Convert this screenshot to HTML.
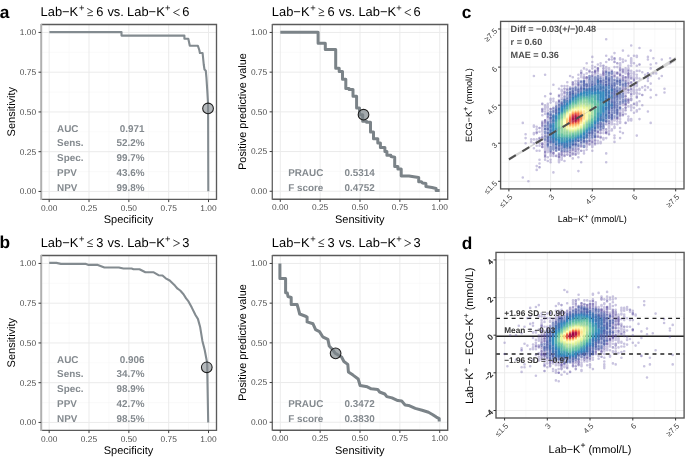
<!DOCTYPE html>
<html><head><meta charset="utf-8"><style>
html,body{margin:0;padding:0;background:#fff;width:685px;height:462px;overflow:hidden}
svg{display:block;font-family:"Liberation Sans", sans-serif;will-change:transform;text-rendering:geometricPrecision}
</style></head><body>
<svg width="685" height="462" viewBox="0 0 685 462" font-family="Liberation Sans, sans-serif"><line x1="69.09" y1="24.5" x2="69.09" y2="199.4" stroke="#f5f5f5" stroke-width="0.55"/>
<line x1="41.2" y1="171.58" x2="216.5" y2="171.58" stroke="#f5f5f5" stroke-width="0.55"/>
<line x1="108.93" y1="24.5" x2="108.93" y2="199.4" stroke="#f5f5f5" stroke-width="0.55"/>
<line x1="41.2" y1="131.82" x2="216.5" y2="131.82" stroke="#f5f5f5" stroke-width="0.55"/>
<line x1="148.77" y1="24.5" x2="148.77" y2="199.4" stroke="#f5f5f5" stroke-width="0.55"/>
<line x1="41.2" y1="92.08" x2="216.5" y2="92.08" stroke="#f5f5f5" stroke-width="0.55"/>
<line x1="188.61" y1="24.5" x2="188.61" y2="199.4" stroke="#f5f5f5" stroke-width="0.55"/>
<line x1="41.2" y1="52.32" x2="216.5" y2="52.32" stroke="#f5f5f5" stroke-width="0.55"/>
<line x1="49.17" y1="24.5" x2="49.17" y2="199.4" stroke="#ebebeb" stroke-width="1.0"/>
<line x1="41.2" y1="191.45" x2="216.5" y2="191.45" stroke="#ebebeb" stroke-width="1.0"/>
<line x1="89.01" y1="24.5" x2="89.01" y2="199.4" stroke="#ebebeb" stroke-width="1.0"/>
<line x1="41.2" y1="151.7" x2="216.5" y2="151.7" stroke="#ebebeb" stroke-width="1.0"/>
<line x1="128.85" y1="24.5" x2="128.85" y2="199.4" stroke="#ebebeb" stroke-width="1.0"/>
<line x1="41.2" y1="111.95" x2="216.5" y2="111.95" stroke="#ebebeb" stroke-width="1.0"/>
<line x1="168.69" y1="24.5" x2="168.69" y2="199.4" stroke="#ebebeb" stroke-width="1.0"/>
<line x1="41.2" y1="72.2" x2="216.5" y2="72.2" stroke="#ebebeb" stroke-width="1.0"/>
<line x1="208.53" y1="24.5" x2="208.53" y2="199.4" stroke="#ebebeb" stroke-width="1.0"/>
<line x1="41.2" y1="32.45" x2="216.5" y2="32.45" stroke="#ebebeb" stroke-width="1.0"/>
<path d="M49.4 32.1 L121.5 32.1 L121.5 35.6 L184.4 35.6 L184.4 38.7 L188.3 38.7 L189.8 45.8 L197.9 45.8 L199.3 50 L199.9 53 L202.6 53 L203.8 65 L204.5 69.5 L205.8 70.8 L206.4 77.3 L207.3 91 L208 102.7 L208.1 108.2 L208.3 191.3" fill="none" stroke="#838b90" stroke-width="2.1" stroke-linejoin="round"/>
<circle cx="208.05" cy="108.45" r="5.35" fill="#838b90" fill-opacity="0.6" stroke="#1e1e1e" stroke-width="1.05"/>
<text x="57.05" y="131.6" font-size="9.9" font-weight="bold" fill="#848a8f">AUC</text>
<text x="144.55" y="131.6" font-size="9.9" text-anchor="end" font-weight="bold" fill="#848a8f">0.971</text>
<text x="57.05" y="146.4" font-size="9.9" font-weight="bold" fill="#848a8f">Sens.</text>
<text x="144.55" y="146.4" font-size="9.9" text-anchor="end" font-weight="bold" fill="#848a8f">52.2%</text>
<text x="57.05" y="161.2" font-size="9.9" font-weight="bold" fill="#848a8f">Spec.</text>
<text x="144.55" y="161.2" font-size="9.9" text-anchor="end" font-weight="bold" fill="#848a8f">99.7%</text>
<text x="57.05" y="176" font-size="9.9" font-weight="bold" fill="#848a8f">PPV</text>
<text x="144.55" y="176" font-size="9.9" text-anchor="end" font-weight="bold" fill="#848a8f">43.6%</text>
<text x="57.05" y="190.8" font-size="9.9" font-weight="bold" fill="#848a8f">NPV</text>
<text x="144.55" y="190.8" font-size="9.9" text-anchor="end" font-weight="bold" fill="#848a8f">99.8%</text>
<path d="M41.2 24.5H216.5V199.4H41.2" fill="none" stroke="#5a5a5a" stroke-width="1.35"/>
<path d="M41.2 23.9V200" stroke="#b0b0b0" stroke-width="2.0"/>
<line x1="49.17" y1="199.4" x2="49.17" y2="202.1" stroke="#3c3c3c" stroke-width="1.0"/>
<text x="49.17" y="210.6" font-size="8.4" text-anchor="middle" fill="#4d4d4d">0.00</text>
<line x1="38.5" y1="191.45" x2="41.2" y2="191.45" stroke="#3c3c3c" stroke-width="1.0"/>
<text x="36.1" y="194.35" font-size="8.4" text-anchor="end" fill="#4d4d4d">0.00</text>
<line x1="89.01" y1="199.4" x2="89.01" y2="202.1" stroke="#3c3c3c" stroke-width="1.0"/>
<text x="89.01" y="210.6" font-size="8.4" text-anchor="middle" fill="#4d4d4d">0.25</text>
<line x1="38.5" y1="151.7" x2="41.2" y2="151.7" stroke="#3c3c3c" stroke-width="1.0"/>
<text x="36.1" y="154.6" font-size="8.4" text-anchor="end" fill="#4d4d4d">0.25</text>
<line x1="128.85" y1="199.4" x2="128.85" y2="202.1" stroke="#3c3c3c" stroke-width="1.0"/>
<text x="128.85" y="210.6" font-size="8.4" text-anchor="middle" fill="#4d4d4d">0.50</text>
<line x1="38.5" y1="111.95" x2="41.2" y2="111.95" stroke="#3c3c3c" stroke-width="1.0"/>
<text x="36.1" y="114.85" font-size="8.4" text-anchor="end" fill="#4d4d4d">0.50</text>
<line x1="168.69" y1="199.4" x2="168.69" y2="202.1" stroke="#3c3c3c" stroke-width="1.0"/>
<text x="168.69" y="210.6" font-size="8.4" text-anchor="middle" fill="#4d4d4d">0.75</text>
<line x1="38.5" y1="72.2" x2="41.2" y2="72.2" stroke="#3c3c3c" stroke-width="1.0"/>
<text x="36.1" y="75.1" font-size="8.4" text-anchor="end" fill="#4d4d4d">0.75</text>
<line x1="208.53" y1="199.4" x2="208.53" y2="202.1" stroke="#3c3c3c" stroke-width="1.0"/>
<text x="208.53" y="210.6" font-size="8.4" text-anchor="middle" fill="#4d4d4d">1.00</text>
<line x1="38.5" y1="32.45" x2="41.2" y2="32.45" stroke="#3c3c3c" stroke-width="1.0"/>
<text x="36.1" y="35.35" font-size="8.4" text-anchor="end" fill="#4d4d4d">1.00</text>
<text x="128.55" y="223.3" font-size="11.0" text-anchor="middle">Specificity</text>
<text x="15.2" y="111.65" font-size="11.0" text-anchor="middle" transform="rotate(-90 15.2 111.65)">Sensitivity</text>
<line x1="300.2" y1="24.5" x2="300.2" y2="199.2" stroke="#f5f5f5" stroke-width="0.55"/>
<line x1="272.3" y1="171.41" x2="447.7" y2="171.41" stroke="#f5f5f5" stroke-width="0.55"/>
<line x1="340.07" y1="24.5" x2="340.07" y2="199.2" stroke="#f5f5f5" stroke-width="0.55"/>
<line x1="272.3" y1="131.7" x2="447.7" y2="131.7" stroke="#f5f5f5" stroke-width="0.55"/>
<line x1="379.93" y1="24.5" x2="379.93" y2="199.2" stroke="#f5f5f5" stroke-width="0.55"/>
<line x1="272.3" y1="92" x2="447.7" y2="92" stroke="#f5f5f5" stroke-width="0.55"/>
<line x1="419.8" y1="24.5" x2="419.8" y2="199.2" stroke="#f5f5f5" stroke-width="0.55"/>
<line x1="272.3" y1="52.29" x2="447.7" y2="52.29" stroke="#f5f5f5" stroke-width="0.55"/>
<line x1="280.27" y1="24.5" x2="280.27" y2="199.2" stroke="#ebebeb" stroke-width="1.0"/>
<line x1="272.3" y1="191.26" x2="447.7" y2="191.26" stroke="#ebebeb" stroke-width="1.0"/>
<line x1="320.14" y1="24.5" x2="320.14" y2="199.2" stroke="#ebebeb" stroke-width="1.0"/>
<line x1="272.3" y1="151.55" x2="447.7" y2="151.55" stroke="#ebebeb" stroke-width="1.0"/>
<line x1="360" y1="24.5" x2="360" y2="199.2" stroke="#ebebeb" stroke-width="1.0"/>
<line x1="272.3" y1="111.85" x2="447.7" y2="111.85" stroke="#ebebeb" stroke-width="1.0"/>
<line x1="399.86" y1="24.5" x2="399.86" y2="199.2" stroke="#ebebeb" stroke-width="1.0"/>
<line x1="272.3" y1="72.15" x2="447.7" y2="72.15" stroke="#ebebeb" stroke-width="1.0"/>
<line x1="439.73" y1="24.5" x2="439.73" y2="199.2" stroke="#ebebeb" stroke-width="1.0"/>
<line x1="272.3" y1="32.44" x2="447.7" y2="32.44" stroke="#ebebeb" stroke-width="1.0"/>
<path d="M280.3 32.2 L318.1 32.2 L318.1 43.3 L325.3 43.3 L325.3 49.4 L335.7 49.4 L335.7 68.3 L339.2 68.3 L339.2 71.5 L342.5 71.5 L342.5 79.3 L345.8 79.3 L345.8 88.4 L349.1 88.4 L349.1 89.4 L353 89.4 L353 96.2 L356.6 96.2 L356.6 107.9 L359.5 107.9 L359.5 114.8 L362.7 114.8 L362.7 121.3 L366.6 121.3 L366.6 122.2 L370.5 122.2 L370.5 132 L373.5 132 L373.5 138.8 L377.8 138.8 L377.8 143 L380.4 143 L380.4 147.5 L384.9 147.5 L384.9 151.4 L386.9 151.4 L386.9 155.3 L390.8 155.3 L391 156.5 L394.7 157.3 L394.7 166.4 L397.9 166.4 L397.9 169 L401.2 169 L401.2 176 L409 176.1 L415.3 177 L418.7 177.5 L418.7 181.7 L421.4 181.7 L422.5 183 L425.9 183.5 L425.9 186.6 L432 187.5 L436.1 188.5 L436.1 190.4 L439.7 190.4" fill="none" stroke="#7b8388" stroke-width="3" stroke-linejoin="round"/>
<circle cx="363.51" cy="114.71" r="5.35" fill="#7b8388" fill-opacity="0.68" stroke="#1e1e1e" stroke-width="1.05"/>
<text x="288.16" y="176.1" font-size="9.9" font-weight="bold" fill="#848a8f">PRAUC</text>
<text x="344.6" y="176.1" font-size="9.9" font-weight="bold" fill="#848a8f">0.5314</text>
<text x="288.16" y="191.4" font-size="9.9" font-weight="bold" fill="#848a8f">F score</text>
<text x="344.6" y="191.4" font-size="9.9" font-weight="bold" fill="#848a8f">0.4752</text>
<path d="M272.3 24.5H447.7V199.2H272.3" fill="none" stroke="#5a5a5a" stroke-width="1.35"/>
<path d="M272.3 23.9V199.8" stroke="#666" stroke-width="1.35"/>
<line x1="280.27" y1="199.2" x2="280.27" y2="201.9" stroke="#3c3c3c" stroke-width="1.0"/>
<text x="280.27" y="210.4" font-size="8.4" text-anchor="middle" fill="#4d4d4d">0.00</text>
<line x1="269.6" y1="191.26" x2="272.3" y2="191.26" stroke="#3c3c3c" stroke-width="1.0"/>
<text x="267.2" y="194.16" font-size="8.4" text-anchor="end" fill="#4d4d4d">0.00</text>
<line x1="320.14" y1="199.2" x2="320.14" y2="201.9" stroke="#3c3c3c" stroke-width="1.0"/>
<text x="320.14" y="210.4" font-size="8.4" text-anchor="middle" fill="#4d4d4d">0.25</text>
<line x1="269.6" y1="151.55" x2="272.3" y2="151.55" stroke="#3c3c3c" stroke-width="1.0"/>
<text x="267.2" y="154.45" font-size="8.4" text-anchor="end" fill="#4d4d4d">0.25</text>
<line x1="360" y1="199.2" x2="360" y2="201.9" stroke="#3c3c3c" stroke-width="1.0"/>
<text x="360" y="210.4" font-size="8.4" text-anchor="middle" fill="#4d4d4d">0.50</text>
<line x1="269.6" y1="111.85" x2="272.3" y2="111.85" stroke="#3c3c3c" stroke-width="1.0"/>
<text x="267.2" y="114.75" font-size="8.4" text-anchor="end" fill="#4d4d4d">0.50</text>
<line x1="399.86" y1="199.2" x2="399.86" y2="201.9" stroke="#3c3c3c" stroke-width="1.0"/>
<text x="399.86" y="210.4" font-size="8.4" text-anchor="middle" fill="#4d4d4d">0.75</text>
<line x1="269.6" y1="72.15" x2="272.3" y2="72.15" stroke="#3c3c3c" stroke-width="1.0"/>
<text x="267.2" y="75.05" font-size="8.4" text-anchor="end" fill="#4d4d4d">0.75</text>
<line x1="439.73" y1="199.2" x2="439.73" y2="201.9" stroke="#3c3c3c" stroke-width="1.0"/>
<text x="439.73" y="210.4" font-size="8.4" text-anchor="middle" fill="#4d4d4d">1.00</text>
<line x1="269.6" y1="32.44" x2="272.3" y2="32.44" stroke="#3c3c3c" stroke-width="1.0"/>
<text x="267.2" y="35.34" font-size="8.4" text-anchor="end" fill="#4d4d4d">1.00</text>
<text x="359.7" y="223.1" font-size="11.0" text-anchor="middle">Sensitivity</text>
<text x="246.2" y="111.55" font-size="10.88" text-anchor="middle" transform="rotate(-90 246.2 111.55)">Positive predictive value</text>
<line x1="69.09" y1="255.5" x2="69.09" y2="430.4" stroke="#f5f5f5" stroke-width="0.55"/>
<line x1="41.2" y1="402.57" x2="216.5" y2="402.57" stroke="#f5f5f5" stroke-width="0.55"/>
<line x1="108.93" y1="255.5" x2="108.93" y2="430.4" stroke="#f5f5f5" stroke-width="0.55"/>
<line x1="41.2" y1="362.82" x2="216.5" y2="362.82" stroke="#f5f5f5" stroke-width="0.55"/>
<line x1="148.77" y1="255.5" x2="148.77" y2="430.4" stroke="#f5f5f5" stroke-width="0.55"/>
<line x1="41.2" y1="323.07" x2="216.5" y2="323.07" stroke="#f5f5f5" stroke-width="0.55"/>
<line x1="188.61" y1="255.5" x2="188.61" y2="430.4" stroke="#f5f5f5" stroke-width="0.55"/>
<line x1="41.2" y1="283.32" x2="216.5" y2="283.32" stroke="#f5f5f5" stroke-width="0.55"/>
<line x1="49.17" y1="255.5" x2="49.17" y2="430.4" stroke="#ebebeb" stroke-width="1.0"/>
<line x1="41.2" y1="422.45" x2="216.5" y2="422.45" stroke="#ebebeb" stroke-width="1.0"/>
<line x1="89.01" y1="255.5" x2="89.01" y2="430.4" stroke="#ebebeb" stroke-width="1.0"/>
<line x1="41.2" y1="382.7" x2="216.5" y2="382.7" stroke="#ebebeb" stroke-width="1.0"/>
<line x1="128.85" y1="255.5" x2="128.85" y2="430.4" stroke="#ebebeb" stroke-width="1.0"/>
<line x1="41.2" y1="342.95" x2="216.5" y2="342.95" stroke="#ebebeb" stroke-width="1.0"/>
<line x1="168.69" y1="255.5" x2="168.69" y2="430.4" stroke="#ebebeb" stroke-width="1.0"/>
<line x1="41.2" y1="303.2" x2="216.5" y2="303.2" stroke="#ebebeb" stroke-width="1.0"/>
<line x1="208.53" y1="255.5" x2="208.53" y2="430.4" stroke="#ebebeb" stroke-width="1.0"/>
<line x1="41.2" y1="263.45" x2="216.5" y2="263.45" stroke="#ebebeb" stroke-width="1.0"/>
<path d="M49.2 262.9 L56.4 262.9 L61 263.9 L86 263.9 L88.6 264.9 L97.8 264.9 L104.4 267.5 L118.8 267.5 L123.4 268.5 L131.6 268.5 L133.5 269.2 L139.5 269.2 L145.4 272.2 L153.3 272.2 L158.5 275.2 L162.5 275.5 L165.7 278.3 L169.7 280.5 L174.9 285.6 L177.6 288.7 L180.2 290.5 L183.5 294.2 L186.1 298.4 L188.5 301.4 L191.8 307.6 L195.6 315.2 L197.9 318.9 L200.2 327.3 L202.4 340.9 L204.7 350 L207 362.1 L207.2 367 L208.2 422.5" fill="none" stroke="#838b90" stroke-width="2.1" stroke-linejoin="round"/>
<circle cx="206.78" cy="367.28" r="5.35" fill="#838b90" fill-opacity="0.6" stroke="#1e1e1e" stroke-width="1.05"/>
<text x="57.05" y="362.6" font-size="9.9" font-weight="bold" fill="#848a8f">AUC</text>
<text x="144.55" y="362.6" font-size="9.9" text-anchor="end" font-weight="bold" fill="#848a8f">0.906</text>
<text x="57.05" y="377.4" font-size="9.9" font-weight="bold" fill="#848a8f">Sens.</text>
<text x="144.55" y="377.4" font-size="9.9" text-anchor="end" font-weight="bold" fill="#848a8f">34.7%</text>
<text x="57.05" y="392.2" font-size="9.9" font-weight="bold" fill="#848a8f">Spec.</text>
<text x="144.55" y="392.2" font-size="9.9" text-anchor="end" font-weight="bold" fill="#848a8f">98.9%</text>
<text x="57.05" y="407" font-size="9.9" font-weight="bold" fill="#848a8f">PPV</text>
<text x="144.55" y="407" font-size="9.9" text-anchor="end" font-weight="bold" fill="#848a8f">42.7%</text>
<text x="57.05" y="421.8" font-size="9.9" font-weight="bold" fill="#848a8f">NPV</text>
<text x="144.55" y="421.8" font-size="9.9" text-anchor="end" font-weight="bold" fill="#848a8f">98.5%</text>
<path d="M41.2 255.5H216.5V430.4H41.2" fill="none" stroke="#5a5a5a" stroke-width="1.35"/>
<path d="M41.2 254.9V431" stroke="#b0b0b0" stroke-width="2.0"/>
<line x1="49.17" y1="430.4" x2="49.17" y2="433.1" stroke="#3c3c3c" stroke-width="1.0"/>
<text x="49.17" y="441.6" font-size="8.4" text-anchor="middle" fill="#4d4d4d">0.00</text>
<line x1="38.5" y1="422.45" x2="41.2" y2="422.45" stroke="#3c3c3c" stroke-width="1.0"/>
<text x="36.1" y="425.35" font-size="8.4" text-anchor="end" fill="#4d4d4d">0.00</text>
<line x1="89.01" y1="430.4" x2="89.01" y2="433.1" stroke="#3c3c3c" stroke-width="1.0"/>
<text x="89.01" y="441.6" font-size="8.4" text-anchor="middle" fill="#4d4d4d">0.25</text>
<line x1="38.5" y1="382.7" x2="41.2" y2="382.7" stroke="#3c3c3c" stroke-width="1.0"/>
<text x="36.1" y="385.6" font-size="8.4" text-anchor="end" fill="#4d4d4d">0.25</text>
<line x1="128.85" y1="430.4" x2="128.85" y2="433.1" stroke="#3c3c3c" stroke-width="1.0"/>
<text x="128.85" y="441.6" font-size="8.4" text-anchor="middle" fill="#4d4d4d">0.50</text>
<line x1="38.5" y1="342.95" x2="41.2" y2="342.95" stroke="#3c3c3c" stroke-width="1.0"/>
<text x="36.1" y="345.85" font-size="8.4" text-anchor="end" fill="#4d4d4d">0.50</text>
<line x1="168.69" y1="430.4" x2="168.69" y2="433.1" stroke="#3c3c3c" stroke-width="1.0"/>
<text x="168.69" y="441.6" font-size="8.4" text-anchor="middle" fill="#4d4d4d">0.75</text>
<line x1="38.5" y1="303.2" x2="41.2" y2="303.2" stroke="#3c3c3c" stroke-width="1.0"/>
<text x="36.1" y="306.1" font-size="8.4" text-anchor="end" fill="#4d4d4d">0.75</text>
<line x1="208.53" y1="430.4" x2="208.53" y2="433.1" stroke="#3c3c3c" stroke-width="1.0"/>
<text x="208.53" y="441.6" font-size="8.4" text-anchor="middle" fill="#4d4d4d">1.00</text>
<line x1="38.5" y1="263.45" x2="41.2" y2="263.45" stroke="#3c3c3c" stroke-width="1.0"/>
<text x="36.1" y="266.35" font-size="8.4" text-anchor="end" fill="#4d4d4d">1.00</text>
<text x="128.55" y="454.3" font-size="11.0" text-anchor="middle">Specificity</text>
<text x="15.2" y="342.65" font-size="11.0" text-anchor="middle" transform="rotate(-90 15.2 342.65)">Sensitivity</text>
<line x1="300.2" y1="255.5" x2="300.2" y2="430.2" stroke="#f5f5f5" stroke-width="0.55"/>
<line x1="272.3" y1="402.41" x2="447.7" y2="402.41" stroke="#f5f5f5" stroke-width="0.55"/>
<line x1="340.07" y1="255.5" x2="340.07" y2="430.2" stroke="#f5f5f5" stroke-width="0.55"/>
<line x1="272.3" y1="362.7" x2="447.7" y2="362.7" stroke="#f5f5f5" stroke-width="0.55"/>
<line x1="379.93" y1="255.5" x2="379.93" y2="430.2" stroke="#f5f5f5" stroke-width="0.55"/>
<line x1="272.3" y1="323" x2="447.7" y2="323" stroke="#f5f5f5" stroke-width="0.55"/>
<line x1="419.8" y1="255.5" x2="419.8" y2="430.2" stroke="#f5f5f5" stroke-width="0.55"/>
<line x1="272.3" y1="283.29" x2="447.7" y2="283.29" stroke="#f5f5f5" stroke-width="0.55"/>
<line x1="280.27" y1="255.5" x2="280.27" y2="430.2" stroke="#ebebeb" stroke-width="1.0"/>
<line x1="272.3" y1="422.26" x2="447.7" y2="422.26" stroke="#ebebeb" stroke-width="1.0"/>
<line x1="320.14" y1="255.5" x2="320.14" y2="430.2" stroke="#ebebeb" stroke-width="1.0"/>
<line x1="272.3" y1="382.55" x2="447.7" y2="382.55" stroke="#ebebeb" stroke-width="1.0"/>
<line x1="360" y1="255.5" x2="360" y2="430.2" stroke="#ebebeb" stroke-width="1.0"/>
<line x1="272.3" y1="342.85" x2="447.7" y2="342.85" stroke="#ebebeb" stroke-width="1.0"/>
<line x1="399.86" y1="255.5" x2="399.86" y2="430.2" stroke="#ebebeb" stroke-width="1.0"/>
<line x1="272.3" y1="303.15" x2="447.7" y2="303.15" stroke="#ebebeb" stroke-width="1.0"/>
<line x1="439.73" y1="255.5" x2="439.73" y2="430.2" stroke="#ebebeb" stroke-width="1.0"/>
<line x1="272.3" y1="263.44" x2="447.7" y2="263.44" stroke="#ebebeb" stroke-width="1.0"/>
<path d="M279.9 263.5 L279.9 278.5 L285.6 278.5 L285.6 292.8 L287.3 293 L288 296.5 L291.2 297.5 L291.2 304.5 L297.1 304.5 L298.4 309 L299.7 314 L302.3 315 L306.2 316.5 L307.1 317 L307.1 321.9 L313 323.8 L315.6 329.7 L319.5 331.6 L322.7 336.8 L327.9 339.4 L329.2 345.9 L333 350 L335.3 353.3 L339 355.5 L341.6 357 L343.9 361.5 L347.8 364.4 L348.4 371.9 L353 375.1 L358.2 379 L360.1 385.5 L367.3 386.8 L371.2 388.8 L377.7 389.4 L379.6 392 L384.8 394 L386.8 396.6 L392 397.9 L397.8 400.6 L401.7 401.1 L405.1 405 L408.5 405.4 L415.3 408.4 L422.1 410.3 L428.5 412.3 L432.8 414.7 L436.3 417.1 L439.2 418.6 L439.2 421.5" fill="none" stroke="#7b8388" stroke-width="3" stroke-linejoin="round"/>
<circle cx="335.6" cy="353.33" r="5.35" fill="#7b8388" fill-opacity="0.68" stroke="#1e1e1e" stroke-width="1.05"/>
<text x="288.16" y="407.1" font-size="9.9" font-weight="bold" fill="#848a8f">PRAUC</text>
<text x="344.6" y="407.1" font-size="9.9" font-weight="bold" fill="#848a8f">0.3472</text>
<text x="288.16" y="422.4" font-size="9.9" font-weight="bold" fill="#848a8f">F score</text>
<text x="344.6" y="422.4" font-size="9.9" font-weight="bold" fill="#848a8f">0.3830</text>
<path d="M272.3 255.5H447.7V430.2H272.3" fill="none" stroke="#5a5a5a" stroke-width="1.35"/>
<path d="M272.3 254.9V430.8" stroke="#666" stroke-width="1.35"/>
<line x1="280.27" y1="430.2" x2="280.27" y2="432.9" stroke="#3c3c3c" stroke-width="1.0"/>
<text x="280.27" y="441.4" font-size="8.4" text-anchor="middle" fill="#4d4d4d">0.00</text>
<line x1="269.6" y1="422.26" x2="272.3" y2="422.26" stroke="#3c3c3c" stroke-width="1.0"/>
<text x="267.2" y="425.16" font-size="8.4" text-anchor="end" fill="#4d4d4d">0.00</text>
<line x1="320.14" y1="430.2" x2="320.14" y2="432.9" stroke="#3c3c3c" stroke-width="1.0"/>
<text x="320.14" y="441.4" font-size="8.4" text-anchor="middle" fill="#4d4d4d">0.25</text>
<line x1="269.6" y1="382.55" x2="272.3" y2="382.55" stroke="#3c3c3c" stroke-width="1.0"/>
<text x="267.2" y="385.45" font-size="8.4" text-anchor="end" fill="#4d4d4d">0.25</text>
<line x1="360" y1="430.2" x2="360" y2="432.9" stroke="#3c3c3c" stroke-width="1.0"/>
<text x="360" y="441.4" font-size="8.4" text-anchor="middle" fill="#4d4d4d">0.50</text>
<line x1="269.6" y1="342.85" x2="272.3" y2="342.85" stroke="#3c3c3c" stroke-width="1.0"/>
<text x="267.2" y="345.75" font-size="8.4" text-anchor="end" fill="#4d4d4d">0.50</text>
<line x1="399.86" y1="430.2" x2="399.86" y2="432.9" stroke="#3c3c3c" stroke-width="1.0"/>
<text x="399.86" y="441.4" font-size="8.4" text-anchor="middle" fill="#4d4d4d">0.75</text>
<line x1="269.6" y1="303.15" x2="272.3" y2="303.15" stroke="#3c3c3c" stroke-width="1.0"/>
<text x="267.2" y="306.05" font-size="8.4" text-anchor="end" fill="#4d4d4d">0.75</text>
<line x1="439.73" y1="430.2" x2="439.73" y2="432.9" stroke="#3c3c3c" stroke-width="1.0"/>
<text x="439.73" y="441.4" font-size="8.4" text-anchor="middle" fill="#4d4d4d">1.00</text>
<line x1="269.6" y1="263.44" x2="272.3" y2="263.44" stroke="#3c3c3c" stroke-width="1.0"/>
<text x="267.2" y="266.34" font-size="8.4" text-anchor="end" fill="#4d4d4d">1.00</text>
<text x="359.7" y="454.1" font-size="11.0" text-anchor="middle">Sensitivity</text>
<text x="246.2" y="342.55" font-size="10.88" text-anchor="middle" transform="rotate(-90 246.2 342.55)">Positive predictive value</text>
<text x="40.57" y="15.9" font-size="12.9">Lab−K</text>
<text x="79" y="11.1" font-size="9.4">+</text>
<text x="96.15" y="15.9" font-size="12.9">6</text>
<text x="107.4" y="15.9" font-size="12.9">vs.</text>
<text x="127.1" y="15.9" font-size="12.9">Lab−K</text>
<text x="164.9" y="11.1" font-size="9.4">+</text>
<text x="182.25" y="15.9" font-size="12.9">6</text>
<path d="M87.2 8.4L92.7 11.5L87.6 13.6M87.4 15.6H93M179.6 9.2L173.5 12.5L179.6 15.6" fill="none" stroke="#222" stroke-width="0.85" stroke-linejoin="miter"/>
<text x="271.87" y="15.9" font-size="12.9">Lab−K</text>
<text x="310.3" y="11.1" font-size="9.4">+</text>
<text x="327.45" y="15.9" font-size="12.9">6</text>
<text x="338.7" y="15.9" font-size="12.9">vs.</text>
<text x="358.4" y="15.9" font-size="12.9">Lab−K</text>
<text x="396.2" y="11.1" font-size="9.4">+</text>
<text x="413.55" y="15.9" font-size="12.9">6</text>
<path d="M318.5 8.4L324 11.5L318.9 13.6M318.7 15.6H324.3M410.9 9.2L404.8 12.5L410.9 15.6" fill="none" stroke="#222" stroke-width="0.85" stroke-linejoin="miter"/>
<text x="40.67" y="246.6" font-size="12.9">Lab−K</text>
<text x="79.1" y="241.8" font-size="9.4">+</text>
<text x="96.25" y="246.6" font-size="12.9">3</text>
<text x="107.5" y="246.6" font-size="12.9">vs.</text>
<text x="127.2" y="246.6" font-size="12.9">Lab−K</text>
<text x="165" y="241.8" font-size="9.4">+</text>
<text x="182.35" y="246.6" font-size="12.9">3</text>
<path d="M93.1 239.2L87.4 242.5L92.7 244.5M92.9 246.5H87.3M173.3 239.9L179.5 243.2L173.3 246.3" fill="none" stroke="#222" stroke-width="0.85" stroke-linejoin="miter"/>
<text x="271.87" y="246.6" font-size="12.9">Lab−K</text>
<text x="310.3" y="241.8" font-size="9.4">+</text>
<text x="327.45" y="246.6" font-size="12.9">3</text>
<text x="338.7" y="246.6" font-size="12.9">vs.</text>
<text x="358.4" y="246.6" font-size="12.9">Lab−K</text>
<text x="396.2" y="241.8" font-size="9.4">+</text>
<text x="413.55" y="246.6" font-size="12.9">3</text>
<path d="M324.3 239.2L318.6 242.5L323.9 244.5M324.1 246.5H318.5M404.5 239.9L410.7 243.2L404.5 246.3" fill="none" stroke="#222" stroke-width="0.85" stroke-linejoin="miter"/>
<text x="-0.2" y="17.6" font-size="17.3" font-weight="bold">a</text>
<text x="-0.5" y="248.4" font-size="17.3" font-weight="bold">b</text>
<text x="461.7" y="18.1" font-size="17.3" font-weight="bold">c</text>
<text x="461.8" y="248.6" font-size="17.3" font-weight="bold">d</text>
<clipPath id="cc"><rect x="500.6" y="21.4" width="183.4" height="167.5"/></clipPath>
<clipPath id="cd"><rect x="496" y="252.4" width="188.1" height="165.6"/></clipPath>
<line x1="529.8" y1="21.4" x2="529.8" y2="188.9" stroke="#f5f5f5" stroke-width="0.5"/>
<line x1="500.6" y1="162.3" x2="684.0" y2="162.3" stroke="#f5f5f5" stroke-width="0.5"/>
<line x1="571.5" y1="21.4" x2="571.5" y2="188.9" stroke="#f5f5f5" stroke-width="0.5"/>
<line x1="500.6" y1="124.2" x2="684.0" y2="124.2" stroke="#f5f5f5" stroke-width="0.5"/>
<line x1="613.1" y1="21.4" x2="613.1" y2="188.9" stroke="#f5f5f5" stroke-width="0.5"/>
<line x1="500.6" y1="86.1" x2="684.0" y2="86.1" stroke="#f5f5f5" stroke-width="0.5"/>
<line x1="654.8" y1="21.4" x2="654.8" y2="188.9" stroke="#f5f5f5" stroke-width="0.5"/>
<line x1="500.6" y1="48.0" x2="684.0" y2="48.0" stroke="#f5f5f5" stroke-width="0.5"/>
<line x1="508.9" y1="21.4" x2="508.9" y2="188.9" stroke="#ebebeb" stroke-width="0.9"/>
<line x1="500.6" y1="181.3" x2="684.0" y2="181.3" stroke="#ebebeb" stroke-width="0.9"/>
<line x1="550.6" y1="21.4" x2="550.6" y2="188.9" stroke="#ebebeb" stroke-width="0.9"/>
<line x1="500.6" y1="143.2" x2="684.0" y2="143.2" stroke="#ebebeb" stroke-width="0.9"/>
<line x1="592.3" y1="21.4" x2="592.3" y2="188.9" stroke="#ebebeb" stroke-width="0.9"/>
<line x1="500.6" y1="105.2" x2="684.0" y2="105.2" stroke="#ebebeb" stroke-width="0.9"/>
<line x1="634.0" y1="21.4" x2="634.0" y2="188.9" stroke="#ebebeb" stroke-width="0.9"/>
<line x1="500.6" y1="67.1" x2="684.0" y2="67.1" stroke="#ebebeb" stroke-width="0.9"/>
<line x1="675.7" y1="21.4" x2="675.7" y2="188.9" stroke="#ebebeb" stroke-width="0.9"/>
<line x1="500.6" y1="29.0" x2="684.0" y2="29.0" stroke="#ebebeb" stroke-width="0.9"/>
<g fill="none" stroke-width="2.6" stroke-linecap="round" clip-path="url(#cc)"><path d="M522.8 177.5h0M522.8 122.9h0M525.6 143.2h0M525.6 138.1h0M525.6 134.3h0M528.4 181.3h0M531.2 141.9h0M531.2 139.4h0M533.9 148.3h0M533.9 143.2h0M533.9 139.4h0M533.9 134.3V133.1M533.9 126.7V125.5M533.9 76.0h0M536.7 169.9h0M536.7 166.1h0M536.7 150.8h0M536.7 145.8h0M536.7 141.9h0M536.7 139.4h0M536.7 131.8h0M536.7 129.3h0M536.7 126.7h0M539.5 163.5h0M539.5 159.7h0M539.5 150.8h0M539.5 145.8h0M539.5 143.2h0M539.5 140.7V139.4M539.5 131.8h0M542.3 139.4V138.1M542.3 134.3h0M542.3 131.8V126.7M542.3 124.2h0M542.3 121.6h0M542.3 115.3h0M542.3 110.2h0M545.1 159.7h0M545.1 157.2h0M545.1 154.6V153.4M545.1 150.8V144.5M545.1 141.9V140.7M545.1 121.6h0M545.1 114.0h0M545.1 111.5h0M545.1 109.0V105.2M545.1 96.3h0M545.1 74.7h0M547.8 161.0h0M547.8 157.2h0M547.8 152.1V148.3M547.8 119.1V117.8M547.8 110.2h0M547.8 107.7V106.4M547.8 103.9h0M550.6 162.3h0M550.6 159.7h0M550.6 155.9V153.4M550.6 102.6h0M550.6 100.1V98.8M553.4 172.4h0M553.4 155.9h0M553.4 152.1h0M553.4 101.3h0M553.4 98.8h0M553.4 84.8h0M556.2 103.9V102.6M559.0 162.3V159.7M559.0 155.9h0M559.0 153.4h0M559.0 100.1h0M559.0 95.0h0M559.0 88.7h0M561.7 159.7V155.9M561.7 153.4h0M561.7 98.8V97.5M561.7 95.0V93.7M561.7 91.2V89.9M561.7 86.1h0M564.5 161.0h0M564.5 154.6h0M564.5 93.7h0M564.5 91.2h0M564.5 86.1h0M567.3 88.7h0M567.3 86.1h0M567.3 82.3h0M570.1 154.6V153.4M570.1 87.4h0M570.1 76.0h0M572.8 158.4h0M572.8 154.6h0M572.8 150.8h0M572.8 87.4h0M572.8 83.6h0M572.8 77.2h0M575.6 153.4V152.1M575.6 148.3h0M575.6 84.8V83.6M575.6 81.0h0M578.4 171.1h0M578.4 157.2h0M578.4 153.4V152.1M578.4 148.3V147.0M578.4 86.1h0M578.4 78.5h0M578.4 74.7h0M581.2 162.3h0M581.2 147.0h0M581.2 77.2V76.0M581.2 72.2V70.9M584.0 153.4h0M584.0 150.8h0M584.0 74.7h0M584.0 68.4h0M586.7 149.6h0M586.7 147.0V144.5M586.7 81.0h0M586.7 73.4h0M586.7 69.6h0M586.7 63.3h0M589.5 143.2V141.9M589.5 72.2h0M592.3 150.8h0M592.3 147.0V143.2M592.3 140.7V139.4M592.3 74.7h0M592.3 68.4h0M592.3 65.8h0M592.3 62.0h0M592.3 56.9h0M595.1 144.5h0M595.1 139.4h0M595.1 74.7V73.4M595.1 67.1h0M597.9 143.2h0M597.9 140.7h0M597.9 135.6h0M597.9 133.1h0M597.9 73.4h0M597.9 69.6h0M597.9 64.5h0M600.6 143.2V141.9M600.6 138.1h0M600.6 76.0V74.7M600.6 65.8h0M600.6 63.3h0M603.4 139.4V138.1M603.4 133.1h0M603.4 130.5V129.3M603.4 77.2V76.0M603.4 72.2h0M606.2 162.3h0M606.2 153.4h0M606.2 138.1h0M606.2 68.4V67.1M606.2 62.0h0M606.2 55.7h0M606.2 39.2h0M609.0 131.8V130.5M609.0 128.0V124.2M609.0 69.6V68.4M611.8 130.5V129.3M611.8 124.2V120.4M611.8 76.0V74.7M611.8 59.5h0M611.8 56.9h0M614.5 141.9h0M614.5 138.1h0M614.5 135.6h0M614.5 128.0V126.7M614.5 124.2h0M614.5 120.4V119.1M614.5 77.2h0M614.5 74.7V72.2M614.5 67.1h0M614.5 59.5h0M614.5 53.1h0M617.3 124.2h0M617.3 121.6h0M617.3 77.2h0M617.3 72.2h0M617.3 67.1h0M620.1 138.1h0M620.1 131.8h0M620.1 128.0h0M620.1 122.9V121.6M620.1 119.1h0M620.1 116.6h0M620.1 114.0h0M620.1 110.2h0M620.1 106.4h0M620.1 78.5h0M620.1 76.0h0M620.1 73.4h0M620.1 70.9h0M620.1 65.8V63.3M620.1 59.5V58.2M622.9 133.1h0M622.9 114.0V109.0M622.9 105.2V103.9M622.9 92.5V89.9M622.9 78.5h0M622.9 70.9h0M622.9 62.0h0M622.9 59.5h0M622.9 50.6h0M625.6 114.0h0M625.6 93.7V89.9M625.6 87.4h0M625.6 79.8V78.5M625.6 73.4V68.4M625.6 60.7h0M628.4 120.4V119.1M628.4 116.6h0M628.4 106.4h0M628.4 101.3h0M628.4 98.8h0M628.4 82.3V78.5M628.4 76.0h0M628.4 69.6V68.4M628.4 65.8h0M628.4 55.7h0M631.2 120.4V119.1M631.2 110.2h0M631.2 107.7V105.2M631.2 96.3V95.0M631.2 91.2V89.9M631.2 86.1h0M631.2 83.6h0M631.2 77.2V76.0M631.2 73.4h0M631.2 70.9h0M631.2 65.8h0M631.2 63.3V58.2M631.2 45.5h0M634.0 112.8h0M634.0 107.7h0M634.0 93.7V89.9M634.0 87.4V86.1M634.0 81.0h0M634.0 78.5V77.2M634.0 74.7V72.2M634.0 63.3h0M634.0 55.7h0M636.8 135.6h0M636.8 111.5V110.2M636.8 105.2V102.6M636.8 96.3h0M636.8 93.7V92.5M636.8 89.9h0M636.8 86.1V83.6M636.8 78.5V77.2M636.8 74.7h0M636.8 70.9h0M636.8 65.8h0M636.8 56.9V55.7M639.5 119.1h0M639.5 109.0h0M639.5 101.3h0M639.5 93.7h0M639.5 89.9V88.7M639.5 78.5h0M639.5 70.9h0M639.5 48.0h0M642.3 105.2h0M642.3 87.4h0M642.3 72.2h0M645.1 89.9h0M645.1 86.1h0M645.1 74.7h0M647.9 111.5h0M647.9 87.4h0M647.9 81.0h0M647.9 78.5V77.2M647.9 59.5h0M647.9 56.9h0M650.7 122.9h0M650.7 97.5h0M650.7 89.9h0M650.7 83.6h0M650.7 76.0h0M650.7 68.4h0M650.7 64.5h0M650.7 50.6h0M653.4 73.4h0M653.4 58.2h0M656.2 95.0h0M656.2 73.4h0M656.2 63.3h0M659.0 78.5h0M661.8 76.0h0M661.8 59.5h0M664.5 92.5h0M664.5 88.7h0M670.1 63.3h0M670.1 58.2h0" stroke="#5e4fa2" stroke-opacity="0.333"/><path d="M536.7 133.1h0M539.5 167.3h0M539.5 138.1h0M539.5 128.0h0M542.3 143.2h0M542.3 136.9h0M542.3 125.5h0M542.3 122.9h0M542.3 111.5h0M542.3 109.0h0M542.3 103.9h0M545.1 155.9h0M545.1 152.1h0M545.1 135.6h0M545.1 122.9h0M547.8 116.6h0M547.8 112.8h0M550.6 152.1h0M550.6 93.7h0M553.4 107.7h0M556.2 155.9h0M559.0 154.6h0M559.0 96.3h0M561.7 154.6h0M561.7 152.1h0M564.5 155.9h0M564.5 152.1h0M564.5 96.3h0M564.5 92.5h0M564.5 88.7h0M567.3 154.6h0M567.3 152.1h0M567.3 89.9h0M570.1 155.9h0M570.1 152.1V150.8M572.8 153.4h0M572.8 149.6h0M572.8 84.8h0M572.8 82.3h0M575.6 154.6h0M575.6 150.8V149.6M578.4 149.6h0M578.4 82.3V81.0M581.2 150.8h0M581.2 145.8h0M581.2 73.4h0M584.0 78.5V77.2M586.7 143.2h0M586.7 78.5h0M589.5 144.5h0M589.5 70.9h0M592.3 141.9h0M592.3 76.0h0M592.3 72.2h0M595.1 143.2h0M595.1 140.7h0M595.1 72.2h0M597.9 136.9h0M597.9 70.9h0M600.6 136.9h0M600.6 133.1h0M600.6 130.5h0M603.4 74.7h0M603.4 70.9h0M603.4 68.4h0M603.4 65.8h0M606.2 131.8h0M606.2 129.3h0M606.2 124.2h0M606.2 70.9h0M609.0 134.3h0M609.0 122.9V121.6M609.0 59.5h0M611.8 70.9h0M614.5 76.0h0M614.5 62.0h0M614.5 58.2h0M617.3 119.1h0M617.3 63.3h0M620.1 115.3h0M620.1 112.8h0M620.1 69.6V68.4M622.9 115.3h0M622.9 88.7V87.4M622.9 79.8h0M622.9 77.2V76.0M622.9 72.2h0M622.9 69.6h0M625.6 122.9h0M625.6 110.2h0M625.6 105.2h0M625.6 98.8h0M625.6 88.7h0M625.6 81.0h0M628.4 102.6h0M628.4 92.5h0M628.4 86.1h0M628.4 77.2h0M628.4 74.7h0M628.4 70.9h0M631.2 100.1V98.8M631.2 93.7h0M631.2 88.7h0M631.2 82.3h0M631.2 78.5h0M634.0 103.9h0M634.0 84.8h0M634.0 79.8h0M636.8 97.5h0M636.8 82.3h0M639.5 64.5h0M642.3 95.0h0M647.9 73.4h0" stroke="#5e4fa2" stroke-opacity="0.5"/><path d="M542.3 147.0h0M542.3 144.5h0M545.1 120.4h0M550.6 109.0h0M553.4 153.4h0M559.0 157.2h0M559.0 101.3h0M578.4 84.8h0M586.7 77.2h0M589.5 140.7h0M595.1 70.9h0M597.9 131.8h0M597.9 68.4h0M603.4 73.4h0M606.2 133.1h0M617.3 117.8h0M617.3 73.4h0M620.1 74.7h0M625.6 107.7h0M625.6 103.9h0M625.6 96.3h0M625.6 77.2h0M628.4 100.1h0M628.4 89.9h0M628.4 83.6h0M628.4 73.4h0" stroke="#5e4fa2" stroke-opacity="0.667"/><path d="M547.8 147.0h0M547.8 115.3h0M550.6 145.8V144.5M550.6 116.6h0M550.6 112.8h0M556.2 149.6h0M556.2 145.8h0M559.0 147.0h0M559.0 106.4h0M561.7 149.6h0M561.7 101.3V100.1M564.5 97.5h0M567.3 149.6h0M567.3 93.7h0M570.1 149.6h0M572.8 89.9h0M575.6 147.0h0M578.4 143.2V141.9M578.4 87.4h0M581.2 144.5h0M581.2 86.1h0M584.0 143.2h0M586.7 87.4h0M589.5 139.4h0M589.5 136.9h0M589.5 134.3h0M592.3 138.1h0M592.3 79.8h0M595.1 134.3h0M597.9 130.5V129.3M600.6 128.0h0M600.6 79.8h0M600.6 77.2h0M603.4 122.9h0M603.4 78.5h0M606.2 83.6h0M606.2 73.4h0M609.0 120.4V119.1M609.0 74.7h0M611.8 111.5h0M614.5 117.8h0M614.5 115.3V114.0M614.5 109.0h0M614.5 87.4h0M617.3 102.6h0M617.3 84.8h0M620.1 109.0h0M620.1 87.4V86.1M622.9 86.1h0M625.6 102.6h0M625.6 82.3h0" stroke="#4f62ab" stroke-opacity="0.333"/><path d="M545.1 136.9h0M545.1 128.0V126.7M547.8 135.6V134.3M547.8 131.8V130.5M547.8 124.2h0M547.8 121.6h0M550.6 143.2h0M550.6 122.9h0M550.6 120.4h0M553.4 112.8h0M553.4 110.2V109.0M556.2 107.7h0M559.0 103.9V102.6M564.5 98.8h0M567.3 150.8h0M567.3 97.5V95.0M570.1 91.2V89.9M572.8 148.3V145.8M575.6 145.8h0M575.6 92.5V91.2M575.6 88.7h0M578.4 144.5h0M578.4 88.7h0M578.4 83.6h0M581.2 143.2h0M581.2 89.9h0M581.2 84.8h0M581.2 81.0h0M584.0 139.4h0M584.0 87.4h0M586.7 141.9h0M586.7 83.6h0M589.5 138.1h0M589.5 87.4h0M589.5 84.8h0M589.5 78.5h0M592.3 134.3h0M592.3 81.0h0M592.3 78.5V77.2M595.1 133.1V131.8M595.1 129.3h0M595.1 84.8h0M597.9 128.0h0M597.9 125.5h0M600.6 125.5h0M603.4 125.5h0M603.4 121.6h0M603.4 83.6h0M603.4 79.8h0M606.2 76.0V74.7M609.0 82.3h0M609.0 77.2V76.0M609.0 72.2h0M611.8 100.1h0M611.8 84.8h0M614.5 116.6h0M614.5 111.5h0M614.5 100.1h0M614.5 82.3V81.0M617.3 116.6V115.3M617.3 106.4h0M617.3 98.8h0M617.3 79.8V78.5M620.1 101.3h0M620.1 93.7h0M620.1 83.6h0M620.1 79.8h0M622.9 102.6h0M622.9 83.6h0M622.9 81.0h0M625.6 100.1h0M625.6 84.8h0" stroke="#4f62ab" stroke-opacity="0.5"/><path d="M545.1 139.4h0M545.1 133.1V131.8M545.1 125.5h0M547.8 145.8h0M547.8 143.2V141.9M547.8 138.1h0M547.8 128.0V125.5M547.8 122.9h0M547.8 114.0h0M550.6 150.8V147.0M550.6 140.7h0M550.6 121.6h0M550.6 119.1h0M550.6 114.0h0M550.6 111.5h0M553.4 149.6V143.2M553.4 111.5h0M556.2 150.8h0M556.2 147.0h0M556.2 111.5h0M556.2 109.0h0M556.2 106.4h0M559.0 148.3h0M559.0 107.7h0M559.0 105.2h0M561.7 150.8h0M561.7 148.3V145.8M561.7 102.6h0M564.5 150.8V148.3M567.3 148.3h0M567.3 100.1V98.8M567.3 92.5h0M570.1 148.3h0M570.1 93.7h0M570.1 88.7h0M572.8 92.5h0M572.8 88.7h0M575.6 143.2V141.9M575.6 93.7h0M575.6 89.9h0M575.6 87.4h0M578.4 145.8h0M578.4 92.5h0M581.2 141.9V140.7M581.2 91.2h0M581.2 87.4h0M581.2 82.3h0M584.0 147.0V145.8M584.0 141.9h0M584.0 86.1h0M584.0 82.3h0M586.7 140.7h0M586.7 138.1h0M586.7 88.7h0M589.5 135.6h0M589.5 86.1h0M589.5 83.6V79.8M589.5 77.2V76.0M592.3 136.9V135.6M592.3 131.8h0M592.3 83.6V82.3M595.1 135.6h0M595.1 83.6V77.2M597.9 126.7h0M597.9 124.2h0M597.9 83.6h0M597.9 78.5V76.0M600.6 129.3h0M600.6 83.6h0M600.6 78.5h0M603.4 128.0V126.7M603.4 124.2h0M603.4 84.8h0M603.4 82.3V81.0M606.2 120.4V119.1M606.2 86.1h0M606.2 81.0V79.8M606.2 77.2h0M606.2 72.2h0M609.0 115.3V114.0M609.0 111.5h0M609.0 81.0h0M609.0 78.5h0M609.0 73.4h0M611.8 119.1h0M611.8 116.6h0M611.8 114.0V112.8M611.8 110.2V109.0M611.8 101.3h0M611.8 98.8h0M611.8 93.7h0M611.8 88.7h0M611.8 83.6V77.2M611.8 73.4V72.2M614.5 112.8h0M614.5 110.2h0M614.5 106.4h0M614.5 103.9h0M614.5 101.3h0M614.5 98.8h0M614.5 95.0h0M614.5 92.5h0M614.5 88.7h0M614.5 86.1h0M614.5 79.8h0M617.3 114.0h0M617.3 111.5h0M617.3 109.0V107.7M617.3 105.2V103.9M617.3 101.3V100.1M617.3 97.5h0M617.3 95.0V92.5M617.3 89.9V87.4M617.3 83.6V82.3M620.1 103.9V102.6M620.1 98.8V95.0M620.1 92.5V88.7M620.1 84.8h0M622.9 101.3V100.1M622.9 97.5V93.7M622.9 84.8h0M625.6 101.3h0M625.6 86.1h0" stroke="#4f62ab" stroke-opacity="0.667"/><path d="M545.1 129.3h0M547.8 144.5h0M547.8 140.7V139.4M547.8 136.9h0M547.8 133.1h0M547.8 129.3h0M550.6 141.9h0M550.6 115.3h0M556.2 148.3h0M556.2 112.8h0M556.2 110.2h0M559.0 149.6h0M559.0 145.8h0M561.7 103.9h0M564.5 100.1h0M570.1 147.0h0M570.1 97.5V95.0M570.1 92.5h0M572.8 91.2h0M578.4 91.2V89.9M581.2 88.7h0M584.0 140.7h0M584.0 84.8V83.6M584.0 81.0h0M586.7 86.1V84.8M592.3 133.1h0M592.3 130.5h0M592.3 86.1V84.8M595.1 136.9h0M595.1 130.5h0M597.9 79.8h0M600.6 126.7h0M600.6 124.2V122.9M600.6 82.3h0M606.2 121.6h0M606.2 82.3h0M606.2 78.5h0M609.0 117.8V116.6M609.0 110.2h0M609.0 84.8V83.6M609.0 79.8h0M611.8 117.8h0M611.8 115.3h0M611.8 107.7h0M611.8 102.6h0M611.8 92.5h0M611.8 87.4V86.1M614.5 107.7h0M614.5 105.2h0M614.5 102.6h0M614.5 97.5V96.3M614.5 93.7h0M614.5 91.2V89.9M614.5 84.8V83.6M617.3 112.8h0M617.3 110.2h0M617.3 96.3h0M617.3 91.2h0M617.3 81.0h0M620.1 107.7h0M620.1 82.3V81.0M625.6 83.6h0" stroke="#4f62ab" stroke-opacity="0.833"/><path d="M550.6 117.8h0M572.8 144.5h0M572.8 93.7h0M575.6 144.5h0M578.4 140.7h0M584.0 88.7h0M589.5 133.1h0M600.6 81.0h0M606.2 84.8h0M609.0 112.8h0" stroke="#4f62ab" stroke-opacity="1.0"/><path d="M550.6 138.1h0M553.4 119.1h0M559.0 144.5h0M559.0 111.5h0M564.5 103.9h0M567.3 147.0h0M570.1 145.8h0M570.1 143.2h0M570.1 98.8h0M572.8 96.3h0M575.6 95.0h0M578.4 139.4h0M584.0 135.6h0M589.5 131.8h0M603.4 114.0h0M603.4 86.1h0M606.2 106.4h0M606.2 97.5h0M609.0 102.6h0M609.0 89.9V88.7M611.8 106.4h0M611.8 103.9h0M611.8 95.0h0M611.8 91.2h0" stroke="#4175b4" stroke-opacity="0.667"/><path d="M550.6 139.4h0M550.6 136.9V134.3M550.6 131.8h0M550.6 129.3V128.0M550.6 124.2h0M553.4 140.7h0M553.4 122.9V121.6M553.4 117.8h0M553.4 115.3h0M556.2 143.2V140.7M556.2 115.3V114.0M559.0 110.2h0M561.7 144.5h0M561.7 105.2h0M564.5 101.3h0M567.3 144.5h0M567.3 102.6V101.3M570.1 144.5h0M570.1 141.9h0M570.1 100.1h0M572.8 143.2V141.9M572.8 95.0h0M575.6 140.7h0M578.4 138.1h0M578.4 93.7h0M581.2 139.4V138.1M581.2 92.5h0M584.0 136.9h0M584.0 91.2V89.9M586.7 136.9h0M586.7 134.3V133.1M586.7 91.2h0M589.5 130.5h0M592.3 129.3V128.0M592.3 89.9h0M592.3 87.4h0M595.1 126.7V124.2M595.1 91.2h0M595.1 87.4V86.1M597.9 122.9V121.6M597.9 88.7V84.8M600.6 117.8h0M600.6 91.2V89.9M600.6 86.1V84.8M603.4 119.1V115.3M603.4 112.8h0M603.4 89.9V88.7M606.2 117.8V116.6M606.2 114.0V110.2M606.2 101.3V100.1M606.2 96.3h0M606.2 93.7h0M606.2 91.2h0M606.2 88.7V87.4M609.0 109.0h0M609.0 100.1h0M609.0 95.0V93.7M609.0 91.2h0M609.0 87.4V86.1M611.8 96.3h0" stroke="#4175b4" stroke-opacity="0.833"/><path d="M550.6 133.1h0M550.6 130.5h0M550.6 126.7V125.5M553.4 141.9h0M553.4 139.4V138.1M553.4 120.4h0M553.4 116.6h0M556.2 144.5h0M559.0 143.2h0M559.0 112.8h0M559.0 109.0h0M561.7 143.2h0M561.7 106.4h0M564.5 147.0V143.2M564.5 105.2h0M564.5 102.6h0M567.3 145.8h0M567.3 143.2h0M572.8 140.7h0M572.8 97.5h0M575.6 139.4h0M575.6 96.3h0M584.0 138.1h0M586.7 135.6h0M586.7 89.9h0M589.5 89.9V88.7M592.3 91.2h0M592.3 88.7h0M595.1 128.0h0M595.1 89.9V88.7M597.9 89.9h0M597.9 82.3V81.0M600.6 120.4V119.1M600.6 116.6h0M600.6 88.7V87.4M603.4 120.4h0M603.4 91.2h0M603.4 87.4h0M606.2 115.3h0M606.2 109.0V107.7M606.2 98.8h0M606.2 95.0h0M606.2 92.5h0M606.2 89.9h0M609.0 107.7V103.9M609.0 101.3h0M609.0 98.8V96.3M609.0 92.5h0M611.8 105.2h0M611.8 97.5h0M611.8 89.9h0" stroke="#4175b4" stroke-opacity="1.0"/><path d="M553.4 131.8h0M553.4 128.0h0M553.4 124.2h0M559.0 141.9h0M564.5 107.7h0M572.8 139.4h0M572.8 100.1h0M586.7 131.8h0M586.7 93.7h0M592.3 92.5h0M600.6 101.3h0M600.6 98.8h0" stroke="#3288bd" stroke-opacity="0.833"/><path d="M553.4 136.9V133.1M553.4 130.5V129.3M553.4 126.7V125.5M556.2 139.4V138.1M556.2 119.1V116.6M559.0 140.7V139.4M559.0 114.0h0M561.7 141.9h0M561.7 111.5V107.7M564.5 141.9h0M564.5 106.4h0M567.3 141.9V140.7M567.3 105.2V103.9M570.1 140.7V139.4M570.1 102.6V101.3M572.8 98.8h0M575.6 138.1h0M575.6 97.5h0M578.4 136.9h0M578.4 96.3V95.0M581.2 136.9V135.6M581.2 95.0V93.7M584.0 134.3V133.1M584.0 93.7V92.5M586.7 130.5h0M586.7 95.0h0M586.7 92.5h0M589.5 129.3V128.0M589.5 93.7V91.2M592.3 126.7h0M592.3 93.7h0M595.1 122.9V121.6M595.1 93.7V92.5M597.9 120.4V117.8M597.9 93.7V91.2M600.6 115.3V114.0M600.6 100.1h0M600.6 97.5V92.5M603.4 111.5V106.4M603.4 102.6V92.5M606.2 105.2V102.6" stroke="#3288bd" stroke-opacity="1.0"/><path d="M556.2 133.1h0M564.5 138.1h0M586.7 96.3h0" stroke="#439bb5" stroke-opacity="0.833"/><path d="M556.2 136.9V134.3M556.2 131.8V128.0M556.2 121.6V120.4M559.0 138.1V136.9M559.0 115.3h0M561.7 140.7V138.1M561.7 112.8h0M564.5 140.7V139.4M564.5 109.0h0M567.3 139.4V138.1M567.3 106.4h0M570.1 138.1h0M570.1 103.9h0M572.8 138.1h0M572.8 101.3h0M575.6 136.9h0M575.6 100.1V98.8M578.4 135.6h0M578.4 97.5h0M581.2 134.3h0M581.2 96.3h0M584.0 131.8h0M584.0 96.3V95.0M586.7 129.3h0M589.5 126.7h0M589.5 96.3V95.0M592.3 125.5V124.2M592.3 95.0h0M595.1 120.4h0M595.1 95.0h0M597.9 116.6V112.8M597.9 100.1V95.0M600.6 112.8V102.6M603.4 105.2V103.9" stroke="#439bb5" stroke-opacity="1.0"/><path d="M556.2 126.7V122.9M559.0 135.6V134.3M559.0 119.1V116.6M561.7 136.9h0M561.7 114.0h0M564.5 136.9h0M564.5 111.5V110.2M567.3 136.9h0M567.3 109.0V107.7M570.1 136.9h0M570.1 105.2h0M572.8 136.9V135.6M572.8 102.6h0M575.6 135.6h0M575.6 102.6V101.3M578.4 134.3h0M578.4 100.1V98.8M581.2 133.1h0M581.2 98.8V97.5M584.0 130.5h0M584.0 97.5h0M586.7 128.0h0M586.7 97.5h0M589.5 125.5V124.2M589.5 98.8V97.5M592.3 122.9V121.6M592.3 97.5V96.3M595.1 119.1V116.6M595.1 100.1V96.3M597.9 111.5V106.4M597.9 102.6V101.3" stroke="#55afad" stroke-opacity="1.0"/><path d="M559.0 133.1V126.7M559.0 120.4h0M561.7 135.6V134.3M561.7 115.3h0M564.5 135.6h0M564.5 112.8h0M567.3 135.6h0M570.1 135.6h0M570.1 106.4h0M572.8 134.3h0M572.8 103.9h0M575.6 134.3h0M575.6 103.9h0M578.4 133.1h0M578.4 101.3h0M581.2 131.8h0M581.2 100.1h0M584.0 129.3h0M584.0 98.8h0M586.7 126.7h0M586.7 98.8h0M589.5 122.9h0M589.5 101.3V100.1M592.3 120.4V119.1M592.3 102.6V98.8M595.1 115.3V109.0M595.1 105.2V101.3M597.9 105.2V103.9" stroke="#66c2a5" stroke-opacity="1.0"/><path d="M559.0 125.5V121.6M561.7 133.1h0M561.7 117.8V116.6M564.5 134.3h0M567.3 134.3h0M567.3 110.2h0M570.1 134.3h0M570.1 107.7h0M572.8 133.1h0M572.8 105.2h0M575.6 133.1h0M578.4 131.8h0M578.4 102.6h0M581.2 130.5h0M581.2 101.3h0M584.0 128.0h0M584.0 100.1h0M586.7 125.5V124.2M586.7 100.1h0M589.5 121.6h0M589.5 102.6h0M592.3 117.8h0M592.3 103.9h0M595.1 107.7V106.4" stroke="#7dcba5" stroke-opacity="1.0"/><path d="M561.7 131.8V126.7M561.7 119.1h0M564.5 133.1V131.8M564.5 114.0h0M567.3 133.1V131.8M567.3 111.5h0M570.1 133.1h0M570.1 109.0h0M572.8 106.4h0M575.6 131.8h0M575.6 105.2h0M578.4 130.5h0M578.4 103.9h0M581.2 129.3h0M581.2 102.6h0M584.0 126.7h0M584.0 102.6V101.3M586.7 122.9h0M586.7 102.6V101.3M589.5 120.4h0M589.5 103.9h0M592.3 116.6V115.3M592.3 110.2V105.2" stroke="#94d4a4" stroke-opacity="1.0"/><path d="M561.7 125.5h0M561.7 120.4h0M564.5 130.5V129.3M564.5 115.3h0M567.3 130.5h0M570.1 131.8h0M572.8 131.8h0M572.8 107.7h0M575.6 106.4h0M578.4 105.2h0M581.2 103.9h0M584.0 125.5h0M584.0 103.9h0M586.7 121.6h0M586.7 105.2V103.9M589.5 119.1h0M589.5 105.2h0M592.3 114.0V111.5" stroke="#abdda4" stroke-opacity="1.0"/><path d="M561.7 124.2V121.6M564.5 128.0h0M564.5 116.6h0M570.1 110.2h0M575.6 130.5h0M578.4 129.3h0M578.4 106.4h0M581.2 128.0h0M581.2 105.2h0M584.0 124.2h0M584.0 105.2h0M586.7 106.4h0M589.5 117.8V115.3M589.5 106.4h0" stroke="#bfe5a0" stroke-opacity="1.0"/><path d="M564.5 126.7h0M564.5 117.8h0M567.3 129.3h0M567.3 112.8h0M570.1 130.5h0M572.8 130.5h0M572.8 109.0h0M575.6 107.7h0M581.2 106.4h0M584.0 106.4h0M586.7 120.4h0M589.5 114.0h0M589.5 109.0V107.7" stroke="#d2ed9c" stroke-opacity="1.0"/><path d="M564.5 119.1h0M570.1 111.5h0M575.6 129.3h0M578.4 128.0h0M578.4 107.7h0M581.2 126.7h0M584.0 122.9h0M584.0 107.7h0M586.7 107.7h0M589.5 112.8V110.2" stroke="#e6f598" stroke-opacity="1.0"/><path d="M564.5 125.5h0M567.3 114.0h0M570.1 129.3h0M572.8 129.3h0M575.6 109.0h0M578.4 109.0h0M581.2 125.5h0M581.2 107.7h0M584.0 121.6h0M584.0 109.0h0M586.7 119.1h0M586.7 110.2V109.0" stroke="#eef8a5" stroke-opacity="1.0"/><path d="M564.5 124.2h0M564.5 120.4h0M567.3 128.0h0M567.3 115.3h0M570.1 128.0h0M572.8 110.2h0M575.6 128.0h0M578.4 126.7h0M581.2 109.0h0M586.7 117.8V111.5" stroke="#f7fcb2" stroke-opacity="1.0"/><path d="M564.5 122.9V121.6M567.3 116.6h0M570.1 112.8h0M572.8 128.0h0M575.6 110.2h0M581.2 124.2h0M584.0 120.4h0M584.0 110.2h0" stroke="#ffffbf" stroke-opacity="1.0"/><path d="M567.3 126.7h0M567.3 117.8h0M570.1 126.7h0M575.6 126.7h0M578.4 110.2h0M581.2 110.2h0" stroke="#fff5ae" stroke-opacity="1.0"/><path d="M570.1 114.0h0M572.8 126.7h0M572.8 111.5h0M578.4 125.5h0M581.2 122.9h0M584.0 119.1h0M584.0 112.8V111.5" stroke="#feea9c" stroke-opacity="1.0"/><path d="M567.3 125.5h0M567.3 119.1h0M575.6 111.5h0M581.2 121.6h0M581.2 111.5h0M584.0 117.8V114.0" stroke="#fee08b" stroke-opacity="1.0"/><path d="M567.3 124.2h0M567.3 121.6V120.4M570.1 125.5h0M570.1 115.3h0M572.8 125.5h0M575.6 125.5h0M578.4 124.2h0M578.4 111.5h0" stroke="#fecf7d" stroke-opacity="1.0"/><path d="M567.3 122.9h0M572.8 112.8h0M581.2 120.4h0M581.2 112.8h0" stroke="#fdbf6f" stroke-opacity="1.0"/><path d="M570.1 116.6h0M572.8 124.2h0M575.6 124.2h0M581.2 114.0h0" stroke="#fdae61" stroke-opacity="1.0"/><path d="M570.1 124.2h0M572.8 114.0h0M575.6 112.8h0M578.4 122.9h0M578.4 112.8h0M581.2 119.1h0M581.2 115.3h0" stroke="#fa9857" stroke-opacity="1.0"/><path d="M570.1 117.8h0M575.6 122.9h0M581.2 117.8V116.6" stroke="#f7834d" stroke-opacity="1.0"/><path d="M570.1 122.9h0M570.1 119.1h0M572.8 122.9h0M578.4 121.6h0M578.4 114.0h0" stroke="#f46d43" stroke-opacity="1.0"/><path d="M570.1 121.6V120.4M572.8 115.3h0M575.6 114.0h0M578.4 115.3h0" stroke="#ea5d47" stroke-opacity="1.0"/><path d="M578.4 120.4h0" stroke="#df4e4b" stroke-opacity="1.0"/><path d="M572.8 121.6h0M572.8 116.6h0M575.6 121.6h0M575.6 115.3h0M578.4 116.6h0" stroke="#d53e4f" stroke-opacity="1.0"/><path d="M572.8 120.4h0M572.8 117.8h0M578.4 119.1V117.8" stroke="#c32a4b" stroke-opacity="1.0"/><path d="M572.8 119.1h0M575.6 120.4h0M575.6 117.8V116.6" stroke="#b01546" stroke-opacity="1.0"/><path d="M575.6 119.1h0" stroke="#9e0142" stroke-opacity="1.0"/></g>
<path d="M508.9 157.85 L517.2 153.10 L525.6 148.31 L533.9 143.48 L542.3 138.63 L550.6 133.73 L558.9 128.81 L567.3 123.84 L575.6 118.85 L584.0 113.82 L592.3 108.76 L600.6 103.68 L609.0 98.56 L617.3 93.42 L625.7 88.25 L634.0 83.05 L642.3 77.83 L650.7 72.58 L659.0 67.30 L667.4 61.99 L675.7 56.65 L675.7 61.15 L667.4 65.86 L659.0 70.60 L650.7 75.37 L642.3 80.17 L634.0 85.00 L625.7 89.85 L617.3 94.73 L609.0 99.64 L600.6 104.57 L592.3 109.54 L584.0 114.53 L575.6 119.55 L567.3 124.61 L558.9 129.69 L550.6 134.82 L542.3 139.97 L533.9 145.17 L525.6 150.39 L517.2 155.65 L508.9 160.95Z" fill="#999" fill-opacity="0.4"/>
<line x1="508.9" y1="159.4" x2="675.7" y2="58.9" stroke="#4f4f4f" stroke-width="2.1" stroke-dasharray="8.1 7.57"/>
<text x="510.6" y="31.9" font-size="9.1" font-weight="bold" fill="#4d4d4d">Diff = −0.03(+/−)0.48</text>
<text x="510.6" y="45.4" font-size="9.1" font-weight="bold" fill="#4d4d4d">r = 0.60</text>
<text x="510.6" y="57.8" font-size="9.1" font-weight="bold" fill="#4d4d4d">MAE = 0.36</text>
<rect x="500.6" y="21.4" width="183.4" height="167.5" fill="none" stroke="#555" stroke-width="1.35"/>
<line x1="508.9" y1="188.9" x2="508.9" y2="191.4" stroke="#333" stroke-width="1"/>
<text x="513.0" y="197.5" font-size="7.7" text-anchor="end" fill="#3d3d3d" transform="rotate(-45 513.0 197.5)">≤1.5</text>
<line x1="498.1" y1="181.3" x2="500.6" y2="181.3" stroke="#333" stroke-width="1"/>
<text x="497.8" y="183.9" font-size="7.7" text-anchor="end" fill="#3d3d3d" transform="rotate(-45 497.8 183.9)">≤1.5</text>
<line x1="550.6" y1="188.9" x2="550.6" y2="191.4" stroke="#333" stroke-width="1"/>
<text x="554.7" y="197.5" font-size="7.7" text-anchor="end" fill="#3d3d3d" transform="rotate(-45 554.7 197.5)">3</text>
<line x1="498.1" y1="143.2" x2="500.6" y2="143.2" stroke="#333" stroke-width="1"/>
<text x="497.8" y="145.8" font-size="7.7" text-anchor="end" fill="#3d3d3d" transform="rotate(-45 497.8 145.8)">3</text>
<line x1="592.3" y1="188.9" x2="592.3" y2="191.4" stroke="#333" stroke-width="1"/>
<text x="596.4" y="197.5" font-size="7.7" text-anchor="end" fill="#3d3d3d" transform="rotate(-45 596.4 197.5)">4.5</text>
<line x1="498.1" y1="105.2" x2="500.6" y2="105.2" stroke="#333" stroke-width="1"/>
<text x="497.8" y="107.8" font-size="7.7" text-anchor="end" fill="#3d3d3d" transform="rotate(-45 497.8 107.8)">4.5</text>
<line x1="634.0" y1="188.9" x2="634.0" y2="191.4" stroke="#333" stroke-width="1"/>
<text x="638.1" y="197.5" font-size="7.7" text-anchor="end" fill="#3d3d3d" transform="rotate(-45 638.1 197.5)">6</text>
<line x1="498.1" y1="67.1" x2="500.6" y2="67.1" stroke="#333" stroke-width="1"/>
<text x="497.8" y="69.7" font-size="7.7" text-anchor="end" fill="#3d3d3d" transform="rotate(-45 497.8 69.7)">6</text>
<line x1="675.7" y1="188.9" x2="675.7" y2="191.4" stroke="#333" stroke-width="1"/>
<text x="679.8" y="197.5" font-size="7.7" text-anchor="end" fill="#3d3d3d" transform="rotate(-45 679.8 197.5)">≥7.5</text>
<line x1="498.1" y1="29.0" x2="500.6" y2="29.0" stroke="#333" stroke-width="1"/>
<text x="497.8" y="31.6" font-size="7.7" text-anchor="end" fill="#3d3d3d" transform="rotate(-45 497.8 31.6)">≥7.5</text>
<text x="592.3" y="222.3" font-size="9.1" text-anchor="middle">Lab−K<tspan dy="-3.7" font-size="7.3">+</tspan><tspan dy="3.7"> (mmol/L)</tspan></text>
<text x="472.1" y="105.2" font-size="9.1" text-anchor="middle" transform="rotate(-90 472.1 105.2)">ECG−K<tspan dy="-3.7" font-size="7.3">+</tspan><tspan dy="3.7"> (mmol/L)</tspan></text>
<line x1="525.9" y1="252.4" x2="525.9" y2="418" stroke="#f5f5f5" stroke-width="0.5"/>
<line x1="568.7" y1="252.4" x2="568.7" y2="418" stroke="#f5f5f5" stroke-width="0.5"/>
<line x1="611.4" y1="252.4" x2="611.4" y2="418" stroke="#f5f5f5" stroke-width="0.5"/>
<line x1="654.2" y1="252.4" x2="654.2" y2="418" stroke="#f5f5f5" stroke-width="0.5"/>
<line x1="496" y1="391.7" x2="684.1" y2="391.7" stroke="#f5f5f5" stroke-width="0.5"/>
<line x1="496" y1="354.0" x2="684.1" y2="354.0" stroke="#f5f5f5" stroke-width="0.5"/>
<line x1="496" y1="316.4" x2="684.1" y2="316.4" stroke="#f5f5f5" stroke-width="0.5"/>
<line x1="496" y1="278.7" x2="684.1" y2="278.7" stroke="#f5f5f5" stroke-width="0.5"/>
<line x1="504.6" y1="252.4" x2="504.6" y2="418" stroke="#ebebeb" stroke-width="0.9"/>
<line x1="547.3" y1="252.4" x2="547.3" y2="418" stroke="#ebebeb" stroke-width="0.9"/>
<line x1="590.0" y1="252.4" x2="590.0" y2="418" stroke="#ebebeb" stroke-width="0.9"/>
<line x1="632.8" y1="252.4" x2="632.8" y2="418" stroke="#ebebeb" stroke-width="0.9"/>
<line x1="675.6" y1="252.4" x2="675.6" y2="418" stroke="#ebebeb" stroke-width="0.9"/>
<line x1="496" y1="410.5" x2="684.1" y2="410.5" stroke="#ebebeb" stroke-width="0.9"/>
<line x1="496" y1="372.8" x2="684.1" y2="372.8" stroke="#ebebeb" stroke-width="0.9"/>
<line x1="496" y1="335.2" x2="684.1" y2="335.2" stroke="#ebebeb" stroke-width="0.9"/>
<line x1="496" y1="297.6" x2="684.1" y2="297.6" stroke="#ebebeb" stroke-width="0.9"/>
<line x1="496" y1="259.9" x2="684.1" y2="259.9" stroke="#ebebeb" stroke-width="0.9"/>
<line x1="496" y1="318.4" x2="684.1" y2="318.4" stroke="#222" stroke-width="1.4" stroke-dasharray="3.95 3.876"/>
<line x1="496" y1="354.0" x2="684.1" y2="354.0" stroke="#222" stroke-width="1.4" stroke-dasharray="3.95 3.876"/>
<line x1="496" y1="336.3" x2="684.1" y2="336.3" stroke="#222" stroke-width="1.5"/>
<g fill="none" stroke-width="2.6" stroke-linecap="round" clip-path="url(#cd)"><path d="M504.6 354.0h0M504.6 342.7h0M507.4 366.2h0M510.2 335.2h0M516.0 359.7h0M516.0 335.2h0M518.8 325.8h0M521.6 371.9h0M521.6 367.2h0M521.6 361.5h0M521.6 348.4h0M521.6 333.3h0M524.5 367.2h0M524.5 364.4h0M524.5 343.7h0M524.5 326.7h0M527.4 345.6h0M527.4 318.3h0M530.2 366.2h0M530.2 349.3h0M530.2 329.6h0M530.2 323.9h0M530.2 316.4h0M530.2 307.9h0M533.0 359.7h0M533.0 349.3V347.4M533.0 344.6h0M533.0 338.0h0M533.0 332.4h0M533.0 325.8h0M533.0 323.0h0M535.9 375.7h0M535.9 355.0h0M535.9 349.3h0M535.9 345.6V344.6M535.9 342.7h0M535.9 339.9h0M535.9 332.4V331.4M535.9 307.0h0M538.8 360.6h0M538.8 358.7h0M538.8 356.8h0M538.8 354.0V353.1M538.8 347.4h0M538.8 340.8V339.9M538.8 338.0V337.1M538.8 335.2h0M538.8 329.6h0M538.8 316.4V315.4M538.8 305.1h0M541.6 359.7h0M541.6 355.9h0M541.6 353.1h0M541.6 349.3h0M541.6 343.7V342.7M541.6 338.0h0M541.6 333.3h0M541.6 329.6V328.6M541.6 326.7h0M541.6 324.9V323.9M541.6 322.0h0M541.6 320.1h0M541.6 316.4h0M541.6 313.6h0M544.5 366.2h0M544.5 363.4h0M544.5 360.6h0M544.5 356.8h0M544.5 354.0h0M544.5 341.8h0M544.5 335.2h0M544.5 332.4V331.4M544.5 326.7h0M544.5 322.0h0M544.5 319.2h0M544.5 316.4h0M547.3 367.2h0M547.3 363.4h0M547.3 360.6h0M547.3 358.7h0M547.3 329.6h0M547.3 326.7h0M547.3 318.3h0M547.3 313.6h0M550.1 362.5h0M550.1 360.6V359.7M550.1 322.0V321.1M550.1 318.3h0M550.1 313.6h0M553.0 371.0h0M553.0 369.1h0M553.0 363.4h0M553.0 360.6h0M553.0 321.1h0M553.0 319.2h0M555.9 380.4h0M555.9 372.8h0M555.9 371.0V370.0M555.9 365.3V364.4M555.9 362.5V360.6M555.9 317.3h0M555.9 314.5h0M555.9 310.7h0M555.9 306.0h0M558.7 381.3h0M558.7 369.1h0M558.7 365.3h0M558.7 363.4h0M558.7 316.4V315.4M558.7 312.6h0M558.7 310.7h0M558.7 304.1V303.2M561.5 374.7h0M561.5 365.3h0M561.5 362.5h0M561.5 313.6h0M561.5 309.8h0M564.4 371.9h0M564.4 367.2V366.2M564.4 364.4h0M564.4 315.4V314.5M564.4 290.0h0M567.2 373.8h0M567.2 366.2V365.3M567.2 312.6h0M567.2 303.2h0M567.2 291.9h0M573.0 365.3h0M573.0 309.8V308.9M573.0 304.1h0M573.0 302.3h0M573.0 300.4h0M575.8 363.4h0M575.8 306.0h0M575.8 302.3h0M578.6 365.3h0M578.6 299.4h0M578.6 294.7h0M581.5 371.0V370.0M581.5 366.2V364.4M581.5 362.5h0M581.5 359.7h0M581.5 357.8h0M581.5 305.1h0M584.4 361.5h0M584.4 357.8h0M584.4 305.1h0M584.4 300.4h0M587.2 365.3h0M587.2 361.5h0M587.2 359.7h0M587.2 356.8V355.9M587.2 300.4h0M590.0 367.2h0M590.0 365.3V364.4M590.0 360.6h0M590.0 357.8V356.8M590.0 301.3h0M592.9 369.1h0M592.9 359.7h0M592.9 357.8h0M592.9 355.0h0M592.9 307.9h0M592.9 300.4V299.4M592.9 294.7V293.8M595.8 350.3h0M595.8 306.0h0M595.8 304.1h0M595.8 302.3h0M598.6 358.7h0M598.6 355.9h0M598.6 350.3h0M598.6 308.9V307.0M598.6 292.9h0M601.5 353.1V352.1M601.5 349.3h0M601.5 311.7h0M601.5 308.9h0M601.5 306.0V305.1M601.5 296.6h0M604.3 368.1h0M604.3 366.2h0M604.3 364.4h0M604.3 361.5h0M604.3 357.8h0M604.3 354.0h0M604.3 351.2V350.3M604.3 309.8h0M604.3 307.9V307.0M604.3 304.1V303.2M604.3 299.4h0M607.1 350.3V346.5M607.1 344.6h0M607.1 342.7h0M607.1 339.0h0M607.1 337.1h0M607.1 313.6V312.6M607.1 309.8h0M607.1 307.9h0M607.1 299.4h0M607.1 296.6h0M607.1 291.9h0M610.0 356.8V355.9M610.0 350.3h0M610.0 346.5V340.8M610.0 338.0V337.1M610.0 317.3h0M610.0 315.4h0M610.0 312.6h0M610.0 308.9V307.9M610.0 306.0h0M610.0 304.1h0M610.0 299.4h0M610.0 297.6h0M612.9 363.4h0M612.9 352.1V351.2M612.9 343.7h0M612.9 340.8V339.9M612.9 336.1h0M612.9 333.3h0M612.9 325.8h0M612.9 319.2V317.3M612.9 315.4V314.5M612.9 312.6h0M612.9 310.7h0M612.9 306.0h0M612.9 302.3h0M612.9 299.4h0M612.9 296.6h0M615.7 364.4h0M615.7 352.1V351.2M615.7 348.4h0M615.7 339.9h0M615.7 338.0V337.1M615.7 332.4V330.5M615.7 328.6h0M615.7 323.9V322.0M615.7 319.2V315.4M615.7 309.8h0M615.7 305.1h0M615.7 298.5h0M618.5 353.1h0M618.5 347.4h0M618.5 342.7V338.0M618.5 334.3V333.3M618.5 330.5h0M618.5 328.6V327.7M618.5 324.9h0M618.5 322.0h0M618.5 320.1h0M618.5 318.3h0M618.5 315.4V314.5M621.4 357.8h0M621.4 352.1h0M621.4 346.5h0M621.4 342.7V341.8M621.4 333.3V331.4M621.4 329.6V327.7M621.4 323.9h0M621.4 319.2h0M621.4 314.5V313.6M621.4 310.7V309.8M621.4 307.9h0M624.2 351.2h0M624.2 346.5h0M624.2 343.7h0M624.2 336.1V335.2M624.2 330.5V329.6M624.2 320.1h0M624.2 317.3V316.4M624.2 314.5h0M624.2 310.7h0M624.2 308.9V307.9M627.1 344.6h0M627.1 339.9V339.0M627.1 337.1h0M627.1 330.5h0M627.1 326.7h0M627.1 318.3h0M627.1 309.8V308.9M627.1 307.0h0M630.0 339.0h0M630.0 326.7h0M630.0 320.1h0M630.0 311.7h0M632.8 342.7h0M632.8 335.2h0M632.8 330.5h0M632.8 320.1h0M632.8 314.5h0M632.8 312.6h0M632.8 310.7h0M635.6 345.6h0M635.6 315.4V314.5M638.5 342.7h0M638.5 323.9h0M638.5 287.2h0M641.4 338.0h0M641.4 331.4h0M644.2 366.2h0M644.2 305.1h0M644.2 301.3h0M647.0 377.5h0M647.0 334.3h0M647.0 328.6h0M649.9 364.4h0M649.9 357.8h0M652.8 333.3h0M655.6 350.3h0M655.6 313.6h0M664.1 323.0h0M664.1 319.2h0M669.9 337.1h0M669.9 330.5h0M669.9 328.6h0M672.7 364.4h0M672.7 355.0h0M672.7 324.9h0" stroke="#5e4fa2" stroke-opacity="0.333"/><path d="M521.6 350.3h0M535.9 346.5h0M538.8 346.5V345.6M541.6 357.8h0M541.6 355.0h0M541.6 347.4h0M541.6 341.8h0M541.6 339.9h0M541.6 336.1V335.2M541.6 325.8h0M544.5 371.0h0M544.5 365.3h0M544.5 358.7h0M544.5 355.9h0M544.5 353.1V351.2M544.5 338.0h0M544.5 334.3h0M547.3 357.8h0M547.3 328.6h0M550.1 366.2V365.3M550.1 363.4h0M550.1 361.5h0M550.1 325.8h0M550.1 312.6h0M555.9 321.1h0M555.9 319.2h0M558.7 362.5h0M558.7 317.3h0M558.7 313.6h0M561.5 369.1V368.1M561.5 366.2h0M561.5 316.4h0M561.5 312.6V311.7M561.5 305.1h0M567.2 368.1h0M567.2 310.7h0M570.1 371.9h0M570.1 311.7h0M570.1 309.8V307.9M573.0 366.2h0M573.0 363.4V362.5M573.0 307.0h0M575.8 369.1h0M575.8 366.2h0M575.8 361.5h0M575.8 308.9h0M575.8 304.1h0M575.8 300.4h0M578.6 364.4h0M578.6 359.7h0M578.6 306.0h0M581.5 306.0h0M584.4 359.7V358.7M584.4 304.1h0M587.2 307.0h0M590.0 358.7h0M590.0 306.0h0M592.9 306.0h0M592.9 301.3h0M595.8 354.0h0M595.8 307.9h0M598.6 349.3h0M601.5 356.8h0M601.5 310.7h0M601.5 299.4V298.5M604.3 348.4h0M604.3 346.5h0M607.1 338.0h0M607.1 336.1h0M607.1 314.5h0M607.1 311.7h0M607.1 308.9h0M607.1 301.3h0M610.0 339.9h0M610.0 335.2h0M610.0 314.5h0M612.9 347.4h0M612.9 337.1h0M612.9 335.2h0M612.9 330.5h0M612.9 328.6h0M612.9 326.7h0M612.9 323.9h0M612.9 316.4h0M612.9 313.6h0M612.9 311.7h0M612.9 309.8h0M615.7 345.6V343.7M615.7 327.7h0M615.7 325.8V324.9M615.7 321.1V320.1M615.7 314.5V311.7M618.5 331.4h0M618.5 317.3h0M621.4 334.3h0M621.4 325.8h0M624.2 332.4h0M624.2 326.7h0M630.0 309.8h0M632.8 313.6h0M641.4 355.9h0" stroke="#5e4fa2" stroke-opacity="0.5"/><path d="M541.6 354.0h0M541.6 351.2h0M541.6 331.4h0M544.5 355.0h0M544.5 340.8h0M544.5 339.0h0M544.5 336.1h0M553.0 361.5h0M558.7 372.8h0M561.5 364.4h0M564.4 363.4h0M564.4 312.6h0M578.6 362.5V361.5M581.5 303.2h0M587.2 357.8h0M587.2 305.1h0M590.0 307.9h0M590.0 304.1h0M592.9 304.1h0M595.8 352.1h0M601.5 351.2h0M601.5 309.8h0M604.3 311.7h0M607.1 343.7h0M607.1 307.0h0M610.0 339.0h0M612.9 338.0h0M615.7 335.2h0M618.5 323.9h0M618.5 321.1h0M618.5 319.2h0M632.8 329.6h0" stroke="#5e4fa2" stroke-opacity="0.667"/><path d="M547.3 355.0h0M547.3 351.2h0M547.3 340.8h0M547.3 339.0h0M547.3 334.3h0M558.7 318.3h0M564.4 360.6h0M567.2 315.4h0M573.0 312.6V311.7M578.6 312.6h0M578.6 308.9h0M581.5 308.9h0M581.5 307.0h0M587.2 355.0h0M587.2 313.6h0M590.0 309.8h0M592.9 353.1h0M592.9 349.3h0M595.8 347.4h0M595.8 310.7h0M595.8 308.9h0M601.5 341.8h0M604.3 342.7h0M604.3 337.1h0M607.1 339.9h0M607.1 334.3h0M607.1 329.6h0M610.0 323.9h0" stroke="#4f62ab" stroke-opacity="0.333"/><path d="M544.5 350.3h0M544.5 348.4h0M544.5 346.5V345.6M547.3 356.8V355.9M547.3 354.0h0M547.3 350.3h0M547.3 338.0h0M547.3 333.3h0M547.3 331.4h0M550.1 357.8h0M553.0 359.7V358.7M553.0 355.0V354.0M555.9 323.0h0M558.7 358.7h0M558.7 322.0h0M558.7 320.1h0M561.5 317.3h0M564.4 362.5V361.5M564.4 316.4h0M567.2 360.6h0M567.2 313.6h0M570.1 362.5h0M573.0 361.5h0M578.6 309.8h0M578.6 307.9h0M584.4 356.8V355.9M584.4 312.6h0M587.2 354.0h0M587.2 310.7h0M590.0 355.0h0M590.0 352.1h0M592.9 350.3h0M592.9 347.4h0M595.8 343.7h0M598.6 345.6h0M598.6 343.7h0M598.6 311.7h0M601.5 348.4h0M601.5 345.6V343.7M601.5 340.8V339.9M601.5 315.4h0M601.5 312.6h0M604.3 316.4h0M604.3 314.5h0M607.1 331.4h0M607.1 325.8h0M607.1 323.0h0M607.1 317.3V315.4M610.0 331.4h0M610.0 328.6V326.7M610.0 324.9h0M610.0 322.0h0M610.0 320.1V319.2M612.9 323.0h0M612.9 320.1h0" stroke="#4f62ab" stroke-opacity="0.5"/><path d="M541.6 345.6V344.6M544.5 349.3h0M544.5 343.7h0M547.3 353.1h0M547.3 349.3V348.4M547.3 343.7V342.7M547.3 339.9h0M547.3 337.1V336.1M547.3 332.4h0M547.3 330.5h0M550.1 356.8V355.9M550.1 350.3h0M550.1 344.6V343.7M550.1 334.3h0M550.1 332.4h0M550.1 330.5V327.7M553.0 357.8V356.8M553.0 353.1h0M553.0 328.6V323.0M555.9 359.7V358.7M555.9 324.9V323.9M555.9 322.0h0M558.7 359.7h0M558.7 357.8h0M558.7 323.0h0M558.7 321.1h0M558.7 319.2h0M561.5 359.7h0M561.5 357.8h0M561.5 319.2h0M564.4 320.1V318.3M567.2 362.5h0M567.2 358.7h0M567.2 314.5h0M570.1 361.5V358.7M570.1 315.4h0M570.1 313.6V312.6M573.0 360.6V359.7M573.0 313.6h0M573.0 310.7h0M575.8 359.7V358.7M575.8 313.6h0M575.8 310.7V309.8M578.6 358.7h0M578.6 356.8V355.9M578.6 313.6h0M578.6 311.7V310.7M578.6 307.0h0M581.5 356.8V355.0M581.5 312.6h0M581.5 310.7V309.8M584.4 354.0h0M584.4 307.9V307.0M587.2 353.1V352.1M587.2 309.8h0M590.0 355.9h0M590.0 353.1h0M590.0 351.2h0M590.0 349.3h0M592.9 351.2h0M592.9 348.4h0M592.9 346.5h0M592.9 312.6V308.9M595.8 349.3V348.4M595.8 345.6h0M595.8 341.8h0M595.8 314.5V311.7M598.6 348.4V346.5M598.6 342.7h0M598.6 340.8h0M598.6 314.5V313.6M598.6 310.7V309.8M601.5 347.4V346.5M601.5 342.7h0M601.5 339.0h0M601.5 337.1h0M601.5 335.2h0M601.5 314.5V313.6M604.3 344.6h0M604.3 341.8h0M604.3 339.9V338.0M604.3 334.3h0M604.3 332.4h0M604.3 329.6h0M604.3 324.9V323.0M604.3 320.1h0M604.3 317.3h0M604.3 315.4h0M604.3 313.6h0M607.1 335.2h0M607.1 327.7h0M607.1 324.9h0M607.1 322.0V319.2M610.0 334.3h0M610.0 330.5V329.6M612.9 327.7h0M612.9 322.0V321.1" stroke="#4f62ab" stroke-opacity="0.667"/><path d="M544.5 347.4h0M547.3 347.4V344.6M547.3 341.8h0M547.3 335.2h0M550.1 358.7h0M550.1 355.0V351.2M550.1 349.3h0M550.1 337.1V335.2M550.1 333.3h0M550.1 331.4h0M553.0 355.9h0M553.0 329.6h0M555.9 357.8V356.8M555.9 325.8h0M561.5 360.6h0M561.5 358.7h0M561.5 320.1h0M561.5 318.3h0M564.4 358.7V357.8M567.2 361.5h0M567.2 359.7h0M567.2 357.8h0M567.2 316.4h0M570.1 314.5h0M573.0 358.7V357.8M575.8 357.8h0M575.8 312.6V311.7M578.6 355.0h0M581.5 354.0h0M581.5 311.7h0M581.5 307.9h0M584.4 353.1h0M584.4 311.7V309.8M587.2 311.7h0M587.2 308.9h0M590.0 354.0h0M590.0 350.3h0M590.0 348.4V347.4M590.0 311.7V310.7M592.9 354.0h0M592.9 352.1h0M595.8 346.5h0M595.8 344.6h0M595.8 342.7h0M595.8 309.8h0M598.6 341.8h0M598.6 339.9h0M598.6 315.4h0M601.5 338.0h0M601.5 336.1h0M601.5 334.3h0M601.5 317.3V316.4M604.3 343.7h0M604.3 340.8h0M604.3 336.1h0M604.3 333.3h0M604.3 331.4h0M604.3 326.7V325.8M604.3 322.0V321.1M604.3 319.2V318.3M607.1 340.8h0M607.1 333.3V332.4M607.1 326.7h0M607.1 323.9h0M607.1 318.3h0M610.0 332.4h0M610.0 325.8h0M610.0 323.0h0M610.0 321.1h0M610.0 316.4h0M612.9 332.4h0" stroke="#4f62ab" stroke-opacity="0.833"/><path d="M584.4 355.0h0M584.4 308.9h0M587.2 312.6h0M598.6 316.4h0M604.3 330.5h0M607.1 328.6h0" stroke="#4f62ab" stroke-opacity="1.0"/><path d="M573.0 356.8h0" stroke="#4175b4" stroke-opacity="0.333"/><path d="M555.9 327.7h0M601.5 326.7h0" stroke="#4175b4" stroke-opacity="0.5"/><path d="M550.1 347.4h0M550.1 339.0h0M553.0 349.3h0M558.7 356.8h0M558.7 328.6h0M561.5 321.1h0M564.4 321.1h0M567.2 356.8h0M587.2 314.5h0M590.0 346.5h0M590.0 344.6h0M590.0 313.6h0M592.9 344.6h0M592.9 313.6h0M595.8 339.9h0M595.8 323.0V322.0M598.6 338.0h0M598.6 324.9h0M598.6 317.3h0M601.5 333.3h0M601.5 318.3h0" stroke="#4175b4" stroke-opacity="0.667"/><path d="M550.1 342.7V341.8M550.1 339.9h0M550.1 338.0h0M553.0 352.1h0M553.0 350.3h0M553.0 347.4V345.6M553.0 337.1h0M553.0 335.2h0M553.0 333.3h0M553.0 331.4V330.5M555.9 355.9h0M555.9 351.2V350.3M555.9 329.6h0M558.7 355.0h0M558.7 325.8h0M558.7 323.9h0M561.5 356.8h0M564.4 356.8h0M564.4 322.0h0M570.1 357.8h0M570.1 318.3V317.3M573.0 316.4h0M573.0 314.5h0M575.8 355.0h0M578.6 354.0V353.1M578.6 314.5h0M581.5 353.1h0M584.4 352.1h0M584.4 315.4h0M584.4 313.6h0M587.2 350.3h0M590.0 316.4V315.4M592.9 342.7V341.8M595.8 339.0h0M595.8 319.2V318.3M595.8 316.4V315.4M598.6 335.2h0M598.6 328.6V327.7M598.6 323.9h0M598.6 322.0h0M598.6 319.2h0M601.5 332.4h0M601.5 329.6V328.6M601.5 325.8V324.9M601.5 321.1h0M604.3 328.6V327.7" stroke="#4175b4" stroke-opacity="0.833"/><path d="M550.1 348.4h0M550.1 346.5V345.6M550.1 340.8h0M553.0 351.2h0M553.0 348.4h0M553.0 344.6h0M553.0 336.1h0M553.0 334.3h0M553.0 332.4h0M555.9 355.0V352.1M555.9 349.3h0M555.9 330.5h0M555.9 328.6h0M555.9 326.7h0M558.7 355.9h0M558.7 327.7V326.7M558.7 324.9h0M561.5 355.9h0M561.5 323.0V322.0M564.4 355.9h0M567.2 355.9h0M567.2 320.1V317.3M570.1 356.8V355.9M570.1 316.4h0M573.0 355.9h0M573.0 317.3h0M573.0 315.4h0M575.8 356.8V355.9M575.8 315.4V314.5M581.5 352.1h0M581.5 314.5V313.6M584.4 351.2h0M584.4 314.5h0M587.2 351.2h0M587.2 349.3V346.5M587.2 315.4h0M590.0 345.6h0M590.0 314.5h0M590.0 312.6h0M592.9 345.6h0M592.9 343.7h0M592.9 340.8V339.0M592.9 318.3V314.5M595.8 340.8h0M595.8 338.0h0M595.8 321.1V320.1M595.8 317.3h0M598.6 339.0h0M598.6 337.1V336.1M598.6 334.3h0M598.6 326.7V325.8M598.6 323.0h0M598.6 321.1V320.1M598.6 318.3h0M601.5 331.4V330.5M601.5 327.7h0M601.5 323.9V322.0M601.5 320.1V319.2" stroke="#4175b4" stroke-opacity="1.0"/><path d="M592.9 338.0h0" stroke="#3288bd" stroke-opacity="0.667"/><path d="M558.7 350.3h0M561.5 323.9h0M564.4 323.9h0M573.0 318.3h0M575.8 316.4h0M587.2 345.6h0M592.9 322.0h0" stroke="#3288bd" stroke-opacity="0.833"/><path d="M553.0 343.7V338.0M555.9 348.4V346.5M555.9 334.3V331.4M558.7 354.0V351.2M558.7 349.3h0M558.7 330.5V329.6M561.5 355.0V354.0M561.5 326.7V324.9M564.4 355.0V354.0M564.4 323.0h0M567.2 355.0h0M567.2 322.0V321.1M570.1 355.0h0M570.1 320.1V319.2M573.0 355.0V354.0M573.0 319.2h0M575.8 354.0V352.1M575.8 317.3h0M578.6 352.1V351.2M578.6 316.4V315.4M581.5 351.2V349.3M581.5 316.4V315.4M584.4 350.3V348.4M584.4 316.4h0M587.2 344.6h0M587.2 317.3V316.4M590.0 343.7V342.7M590.0 319.2V317.3M592.9 337.1h0M592.9 323.0h0M592.9 321.1V319.2M595.8 337.1V332.4M595.8 324.9V323.9M598.6 333.3V329.6" stroke="#3288bd" stroke-opacity="1.0"/><path d="M555.9 337.1h0M564.4 353.1h0" stroke="#439bb5" stroke-opacity="0.833"/><path d="M555.9 345.6V343.7M555.9 338.0h0M555.9 336.1V335.2M558.7 348.4V347.4M558.7 332.4V331.4M561.5 353.1V351.2M561.5 328.6V327.7M564.4 352.1V351.2M564.4 325.8V324.9M567.2 354.0V352.1M567.2 323.0h0M570.1 354.0V353.1M570.1 321.1h0M573.0 353.1V351.2M573.0 320.1h0M575.8 351.2h0M575.8 319.2V318.3M578.6 350.3h0M578.6 319.2V317.3M581.5 348.4V347.4M581.5 319.2V317.3M584.4 347.4V345.6M584.4 318.3V317.3M587.2 343.7V342.7M587.2 318.3h0M590.0 341.8V339.0M590.0 322.0V320.1M592.9 336.1V333.3M592.9 326.7V323.9M595.8 331.4V325.8" stroke="#439bb5" stroke-opacity="1.0"/><path d="M555.9 342.7V339.0M558.7 346.5V345.6M558.7 333.3h0M561.5 350.3V347.4M561.5 329.6h0M564.4 350.3h0M564.4 326.7h0M567.2 351.2h0M567.2 324.9V323.9M570.1 352.1h0M570.1 323.9V322.0M573.0 350.3h0M573.0 322.0V321.1M575.8 350.3h0M575.8 321.1V320.1M578.6 349.3V348.4M578.6 321.1V320.1M581.5 346.5h0M581.5 320.1h0M584.4 344.6h0M584.4 320.1V319.2M587.2 341.8h0M587.2 320.1V319.2M590.0 338.0h0M590.0 323.9V323.0M592.9 332.4V327.7" stroke="#55afad" stroke-opacity="1.0"/><path d="M558.7 344.6V342.7M558.7 335.2V334.3M561.5 346.5V344.6M561.5 331.4V330.5M564.4 349.3V348.4M564.4 327.7h0M567.2 350.3V349.3M567.2 326.7V325.8M570.1 351.2V350.3M570.1 324.9h0M573.0 349.3V348.4M573.0 323.0h0M575.8 349.3V347.4M575.8 323.0V322.0M578.6 347.4h0M578.6 322.0h0M581.5 345.6h0M581.5 322.0V321.1M584.4 343.7V342.7M584.4 321.1h0M587.2 340.8V339.9M587.2 322.0V321.1M590.0 337.1V332.4M590.0 327.7V324.9" stroke="#66c2a5" stroke-opacity="1.0"/><path d="M558.7 341.8h0M558.7 338.0V336.1M561.5 343.7h0M561.5 332.4h0M564.4 347.4V346.5M564.4 328.6h0M567.2 348.4h0M567.2 327.7h0M570.1 349.3V348.4M570.1 325.8h0M573.0 347.4h0M573.0 323.9h0M575.8 346.5h0M575.8 323.9h0M578.6 346.5V345.6M578.6 323.0h0M581.5 344.6V343.7M581.5 323.0h0M584.4 341.8V340.8M584.4 322.0h0M587.2 339.0h0M587.2 324.9V323.0M590.0 331.4V328.6" stroke="#7dcba5" stroke-opacity="1.0"/><path d="M558.7 340.8V339.0M561.5 342.7h0M561.5 333.3h0M564.4 345.6h0M564.4 329.6h0M567.2 347.4h0M570.1 347.4h0M573.0 346.5h0M573.0 324.9h0M575.8 345.6h0M575.8 324.9h0M578.6 344.6h0M578.6 323.9h0M581.5 342.7V341.8M581.5 324.9V323.9M584.4 339.9h0M584.4 324.9V323.0M587.2 338.0V334.3M587.2 325.8h0" stroke="#94d4a4" stroke-opacity="1.0"/><path d="M564.4 344.6h0M564.4 330.5h0M567.2 346.5h0M567.2 328.6h0M570.1 346.5V345.6M570.1 326.7h0M573.0 345.6h0M573.0 325.8h0M575.8 344.6h0M578.6 343.7h0M578.6 324.9h0M581.5 325.8h0M584.4 339.0h0M584.4 325.8h0M587.2 333.3V331.4M587.2 326.7h0" stroke="#abdda4" stroke-opacity="1.0"/><path d="M561.5 341.8h0M561.5 334.3h0M564.4 343.7h0M564.4 331.4h0M567.2 345.6V343.7M567.2 329.6h0M570.1 344.6V343.7M570.1 327.7h0M573.0 344.6h0M573.0 326.7h0M575.8 325.8h0M578.6 342.7h0M578.6 325.8h0M581.5 340.8h0M584.4 338.0V337.1M584.4 326.7h0M587.2 330.5V327.7" stroke="#bfe5a0" stroke-opacity="1.0"/><path d="M561.5 340.8h0M561.5 335.2h0M564.4 342.7h0M564.4 332.4h0M567.2 330.5h0M573.0 343.7h0M575.8 343.7V342.7M578.6 341.8h0M581.5 339.9h0M581.5 326.7h0M584.4 336.1V335.2M584.4 327.7h0" stroke="#d2ed9c" stroke-opacity="1.0"/><path d="M561.5 339.9V336.1M564.4 341.8h0M567.2 342.7h0M567.2 331.4h0M570.1 342.7h0M570.1 328.6h0M573.0 342.7h0M573.0 327.7h0M575.8 341.8h0M575.8 326.7h0M578.6 340.8h0M578.6 326.7h0M581.5 339.0V338.0M584.4 334.3h0M584.4 332.4V328.6" stroke="#e6f598" stroke-opacity="1.0"/><path d="M564.4 340.8h0M564.4 333.3h0M570.1 329.6h0M575.8 340.8h0M578.6 339.9h0M581.5 337.1h0M581.5 327.7h0M584.4 333.3h0" stroke="#eef8a5" stroke-opacity="1.0"/><path d="M567.2 341.8h0M570.1 341.8h0M573.0 341.8h0M573.0 328.6h0M575.8 327.7h0M578.6 339.0h0M578.6 327.7h0" stroke="#f7fcb2" stroke-opacity="1.0"/><path d="M564.4 339.9h0M564.4 334.3h0M567.2 332.4h0M570.1 330.5h0M573.0 340.8h0M575.8 339.9h0M578.6 338.0h0M581.5 336.1h0M581.5 328.6h0" stroke="#ffffbf" stroke-opacity="1.0"/><path d="M564.4 339.0h0M567.2 340.8h0M570.1 340.8h0M575.8 328.6h0M578.6 328.6h0M581.5 335.2h0M581.5 329.6h0" stroke="#fff5ae" stroke-opacity="1.0"/><path d="M564.4 335.2h0M573.0 339.9h0M573.0 329.6h0M575.8 339.0h0M578.6 337.1h0M581.5 334.3V333.3M581.5 331.4V330.5" stroke="#feea9c" stroke-opacity="1.0"/><path d="M564.4 338.0h0M567.2 339.9h0M567.2 333.3h0M570.1 339.9h0M570.1 331.4h0M575.8 329.6h0M578.6 329.6h0M581.5 332.4h0" stroke="#fee08b" stroke-opacity="1.0"/><path d="M564.4 337.1V336.1M575.8 338.0h0M578.6 336.1h0" stroke="#fecf7d" stroke-opacity="1.0"/><path d="M567.2 339.0h0M573.0 339.0h0M578.6 330.5h0" stroke="#fdbf6f" stroke-opacity="1.0"/><path d="M570.1 339.0h0M570.1 332.4h0M573.0 330.5h0M575.8 330.5h0" stroke="#fdae61" stroke-opacity="1.0"/><path d="M567.2 334.3h0M575.8 337.1h0M578.6 335.2h0M578.6 331.4h0" stroke="#fa9857" stroke-opacity="1.0"/><path d="M567.2 338.0h0M573.0 338.0h0" stroke="#f7834d" stroke-opacity="1.0"/><path d="M573.0 331.4h0M575.8 331.4h0M578.6 334.3h0M578.6 332.4h0" stroke="#f46d43" stroke-opacity="1.0"/><path d="M567.2 335.2h0M570.1 338.0h0M570.1 333.3h0M575.8 336.1h0M578.6 333.3h0" stroke="#ea5d47" stroke-opacity="1.0"/><path d="M567.2 337.1V336.1M573.0 337.1h0" stroke="#df4e4b" stroke-opacity="1.0"/><path d="M570.1 337.1h0M573.0 332.4h0M575.8 335.2h0M575.8 332.4h0" stroke="#d53e4f" stroke-opacity="1.0"/><path d="M570.1 334.3h0M573.0 336.1h0" stroke="#c32a4b" stroke-opacity="1.0"/><path d="M570.1 336.1V335.2M573.0 335.2h0M573.0 333.3h0M575.8 334.3V333.3" stroke="#b01546" stroke-opacity="1.0"/><path d="M573.0 334.3h0" stroke="#9e0142" stroke-opacity="1.0"/></g>
<text x="504.3" y="316.0" font-size="8.3" font-weight="bold" fill="#333">+1.96 SD = 0.90</text>
<text x="504.3" y="333.4" font-size="8.2" font-weight="bold" fill="#333">Mean = −0.03</text>
<text x="504.3" y="362.6" font-size="8.2" font-weight="bold" fill="#333">−1.96 SD = −0.97</text>
<rect x="496" y="252.4" width="188.1" height="165.6" fill="none" stroke="#555" stroke-width="1.35"/>
<line x1="504.6" y1="418" x2="504.6" y2="420.5" stroke="#333" stroke-width="1"/>
<text x="508.7" y="426.5" font-size="7.7" text-anchor="end" fill="#3d3d3d" transform="rotate(-45 508.7 426.5)">≤1.5</text>
<line x1="547.3" y1="418" x2="547.3" y2="420.5" stroke="#333" stroke-width="1"/>
<text x="551.4" y="426.5" font-size="7.7" text-anchor="end" fill="#3d3d3d" transform="rotate(-45 551.4 426.5)">3</text>
<line x1="590.0" y1="418" x2="590.0" y2="420.5" stroke="#333" stroke-width="1"/>
<text x="594.1" y="426.5" font-size="7.7" text-anchor="end" fill="#3d3d3d" transform="rotate(-45 594.1 426.5)">4.5</text>
<line x1="632.8" y1="418" x2="632.8" y2="420.5" stroke="#333" stroke-width="1"/>
<text x="636.9" y="426.5" font-size="7.7" text-anchor="end" fill="#3d3d3d" transform="rotate(-45 636.9 426.5)">6</text>
<line x1="675.6" y1="418" x2="675.6" y2="420.5" stroke="#333" stroke-width="1"/>
<text x="679.7" y="426.5" font-size="7.7" text-anchor="end" fill="#3d3d3d" transform="rotate(-45 679.7 426.5)">≥7.5</text>
<line x1="493.5" y1="410.5" x2="496" y2="410.5" stroke="#333" stroke-width="1"/>
<text x="493.6" y="412.8" font-size="7.7" text-anchor="end" fill="#1a1a1a" stroke="#1a1a1a" stroke-width="0.3" transform="rotate(-45 493.6 412.8)">−4</text>
<line x1="493.5" y1="372.8" x2="496" y2="372.8" stroke="#333" stroke-width="1"/>
<text x="493.6" y="375.1" font-size="7.7" text-anchor="end" fill="#1a1a1a" stroke="#1a1a1a" stroke-width="0.3" transform="rotate(-45 493.6 375.1)">−2</text>
<line x1="493.5" y1="335.2" x2="496" y2="335.2" stroke="#333" stroke-width="1"/>
<text x="493.6" y="337.5" font-size="7.7" text-anchor="end" fill="#1a1a1a" stroke="#1a1a1a" stroke-width="0.3" transform="rotate(-45 493.6 337.5)">0</text>
<line x1="493.5" y1="297.6" x2="496" y2="297.6" stroke="#333" stroke-width="1"/>
<text x="493.6" y="299.9" font-size="7.7" text-anchor="end" fill="#1a1a1a" stroke="#1a1a1a" stroke-width="0.3" transform="rotate(-45 493.6 299.9)">2</text>
<line x1="493.5" y1="259.9" x2="496" y2="259.9" stroke="#333" stroke-width="1"/>
<text x="493.6" y="262.2" font-size="7.7" text-anchor="end" fill="#1a1a1a" stroke="#1a1a1a" stroke-width="0.3" transform="rotate(-45 493.6 262.2)">4</text>
<text x="590.0" y="452.7" font-size="10.9" text-anchor="middle">Lab−K<tspan dy="-4.4" font-size="8.6">+</tspan><tspan dy="4.4"> (mmol/L)</tspan></text>
<text x="473.2" y="335.9" font-size="10.8" text-anchor="middle" transform="rotate(-90 473.2 335.9)">Lab−K<tspan dy="-4.4" font-size="8.6">+</tspan><tspan dy="4.4"> − ECG−K</tspan><tspan dy="-4.4" font-size="8.6">+</tspan><tspan dy="4.4"> (mmol/L)</tspan></text></svg>
</body></html>
